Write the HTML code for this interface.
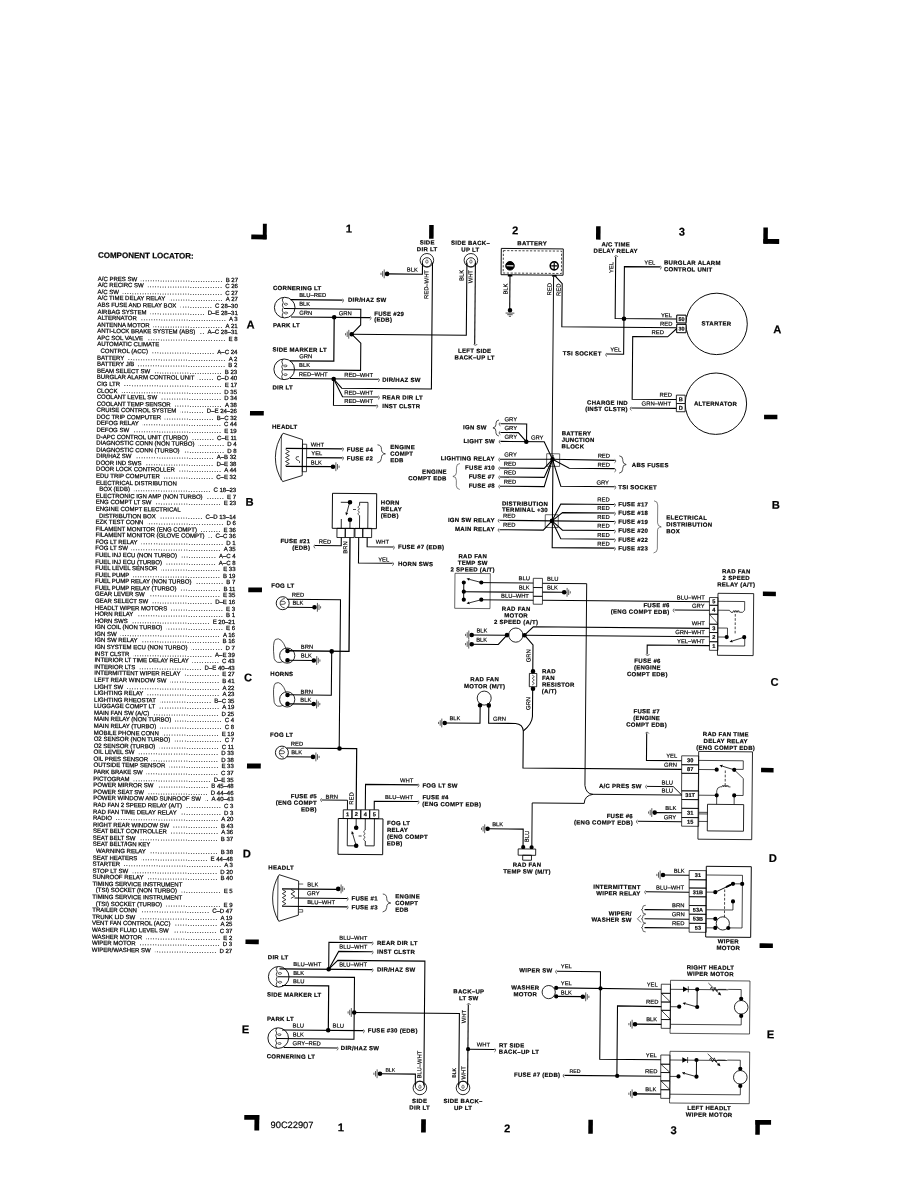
<!DOCTYPE html>
<html><head><meta charset="utf-8"><title>Wiring Diagram</title>
<style>
html,body{margin:0;padding:0;background:#fff}
body{width:918px;height:1188px;overflow:hidden;position:relative;font-family:"Liberation Sans",sans-serif;color:#000}
#pg{filter:grayscale(1);position:absolute;left:0;top:0;width:918px;height:1188px;transform:rotate(0.5deg);transform-origin:459px 594px}
#ttl{-webkit-text-stroke:0.2px #000;position:absolute;left:95px;top:253.6px;font-size:8px;font-weight:bold;line-height:10px;white-space:nowrap}
#ls{-webkit-text-stroke:0.22px #000;position:absolute;left:95px;top:278.7px;width:140.3px;font-size:6px;line-height:6.58px}
#ls div{display:flex;height:6.58px;white-space:nowrap;align-items:flex-start}
#ls div.i{padding-left:3.4px}
#ls b{font-weight:normal;flex:none}
#ls u{text-decoration:none;flex:none}
#ls i{flex:1;font-style:normal;overflow:hidden;margin:0 2.5px 0 4px;min-width:2px;letter-spacing:0.85px;direction:rtl;text-align:right}
svg{position:absolute;left:0;top:0}
svg text{font-family:"Liberation Sans",sans-serif;fill:#000;stroke:#000;stroke-width:0.18px;stroke-linejoin:round}
</style></head>
<body><div id="pg">
<div id="ttl">COMPONENT LOCATOR:</div>
<div id="ls"><div><b>A/C PRES SW</b><i>......................................................................</i><u>B 27</u></div><div><b>A/C RECIRC SW</b><i>......................................................................</i><u>C 26</u></div><div><b>A/C SW</b><i>......................................................................</i><u>C 27</u></div><div><b>A/C TIME DELAY RELAY</b><i>......................................................................</i><u>A 27</u></div><div><b>ABS FUSE AND RELAY BOX</b><i>......................................................................</i><u>C 28–30</u></div><div><b>AIRBAG SYSTEM</b><i>......................................................................</i><u>D–E 28–31</u></div><div><b>ALTERNATOR</b><i>......................................................................</i><u>A 3</u></div><div><b>ANTENNA MOTOR</b><i>......................................................................</i><u>A 21</u></div><div><b>ANTI-LOCK BRAKE SYSTEM (ABS)</b><i>......................................................................</i><u>A–C 28–31</u></div><div><b>APC SOL VALVE</b><i>......................................................................</i><u>E 8</u></div><div><b>AUTOMATIC CLIMATE</b></div><div class="i"><b>CONTROL (ACC)</b><i>......................................................................</i><u>A–C 24</u></div><div><b>BATTERY</b><i>......................................................................</i><u>A 2</u></div><div><b>BATTERY J/B</b><i>......................................................................</i><u>B 2</u></div><div><b>BEAM SELECT SW</b><i>......................................................................</i><u>B 23</u></div><div><b>BURGLAR ALARM CONTROL UNIT</b><i>......................................................................</i><u>C–D 40</u></div><div><b>CIG LTR</b><i>......................................................................</i><u>E 17</u></div><div><b>CLOCK</b><i>......................................................................</i><u>D 35</u></div><div><b>COOLANT LEVEL SW</b><i>......................................................................</i><u>D 34</u></div><div><b>COOLANT TEMP SENSOR</b><i>......................................................................</i><u>A 38</u></div><div><b>CRUISE CONTROL SYSTEM</b><i>......................................................................</i><u>D–E 24–26</u></div><div><b>DOC TRIP COMPUTER</b><i>......................................................................</i><u>B–C 32</u></div><div><b>DEFOG RELAY</b><i>......................................................................</i><u>C 44</u></div><div><b>DEFOG SW</b><i>......................................................................</i><u>E 19</u></div><div><b>D-APC CONTROL UNIT (TURBO)</b><i>......................................................................</i><u>C–E 11</u></div><div><b>DIAGNOSTIC CONN (NON TURBO)</b><i>......................................................................</i><u>D 4</u></div><div><b>DIAGNOSTIC CONN (TURBO)</b><i>......................................................................</i><u>D 8</u></div><div><b>DIR/HAZ SW</b><i>......................................................................</i><u>A–B 32</u></div><div><b>DOOR IND SWS</b><i>......................................................................</i><u>D–E 38</u></div><div><b>DOOR LOCK CONTROLLER</b><i>......................................................................</i><u>A 44</u></div><div><b>EDU TRIP COMPUTER</b><i>......................................................................</i><u>C–E 32</u></div><div><b>ELECTRICAL DISTRIBUTION</b></div><div class="i"><b>BOX (EDB)</b><i>......................................................................</i><u>C 18–23</u></div><div><b>ELECTRONIC IGN AMP (NON TURBO)</b><i>......................................................................</i><u>E 7</u></div><div><b>ENG COMPT LT SW</b><i>......................................................................</i><u>E 23</u></div><div><b>ENGINE COMPT ELECTRICAL</b></div><div class="i"><b>DISTRIBUTION BOX</b><i>......................................................................</i><u>C–D 13–14</u></div><div><b>EZK TEST CONN</b><i>......................................................................</i><u>D 6</u></div><div><b>FILAMENT MONITOR (ENG COMPT)</b><i>......................................................................</i><u>E 36</u></div><div><b>FILAMENT MONITOR (GLOVE COMPT)</b><i>......................................................................</i><u>C–C 36</u></div><div><b>FOG LT RELAY</b><i>......................................................................</i><u>D 1</u></div><div><b>FOG LT SW</b><i>......................................................................</i><u>A 35</u></div><div><b>FUEL INJ ECU (NON TURBO)</b><i>......................................................................</i><u>A–C 4</u></div><div><b>FUEL INJ ECU (TURBO)</b><i>......................................................................</i><u>A–C 8</u></div><div><b>FUEL LEVEL SENSOR</b><i>......................................................................</i><u>E 33</u></div><div><b>FUEL PUMP</b><i>......................................................................</i><u>B 19</u></div><div><b>FUEL PUMP RELAY (NON TURBO)</b><i>......................................................................</i><u>B 7</u></div><div><b>FUEL PUMP RELAY (TURBO)</b><i>......................................................................</i><u>B 11</u></div><div><b>GEAR LEVER SW</b><i>......................................................................</i><u>E 35</u></div><div><b>GEAR SELECT SW</b><i>......................................................................</i><u>D–E 16</u></div><div><b>HEADLT WIPER MOTORS</b><i>......................................................................</i><u>E 3</u></div><div><b>HORN RELAY</b><i>......................................................................</i><u>B 1</u></div><div><b>HORN SWS</b><i>......................................................................</i><u>E 20–21</u></div><div><b>IGN COIL (NON TURBO)</b><i>......................................................................</i><u>E 6</u></div><div><b>IGN SW</b><i>......................................................................</i><u>A 16</u></div><div><b>IGN SW RELAY</b><i>......................................................................</i><u>B 16</u></div><div><b>IGN SYSTEM ECU (NON TURBO)</b><i>......................................................................</i><u>D 7</u></div><div><b>INST CLSTR</b><i>......................................................................</i><u>A–E 39</u></div><div><b>INTERIOR LT TIME DELAY RELAY</b><i>......................................................................</i><u>C 43</u></div><div><b>INTERIOR LTS</b><i>......................................................................</i><u>D–E 40–43</u></div><div><b>INTERMITTENT WIPER RELAY</b><i>......................................................................</i><u>E 27</u></div><div><b>LEFT REAR WINDOW SW</b><i>......................................................................</i><u>B 41</u></div><div><b>LIGHT SW</b><i>......................................................................</i><u>A 22</u></div><div><b>LIGHTING RELAY</b><i>......................................................................</i><u>A 23</u></div><div><b>LIGHTING RHEOSTAT</b><i>......................................................................</i><u>B–C 35</u></div><div><b>LUGGAGE COMPT LT</b><i>......................................................................</i><u>A 19</u></div><div><b>MAIN FAN SW (A/C)</b><i>......................................................................</i><u>D 25</u></div><div><b>MAIN RELAY (NON TURBO)</b><i>......................................................................</i><u>C 4</u></div><div><b>MAIN RELAY (TURBO)</b><i>......................................................................</i><u>C 8</u></div><div><b>MOBILE PHONE CONN</b><i>......................................................................</i><u>E 19</u></div><div><b>O2 SENSOR (NON TURBO)</b><i>......................................................................</i><u>C 7</u></div><div><b>O2 SENSOR (TURBO)</b><i>......................................................................</i><u>C 11</u></div><div><b>OIL LEVEL SW</b><i>......................................................................</i><u>D 33</u></div><div><b>OIL PRES SENSOR</b><i>......................................................................</i><u>D 38</u></div><div><b>OUTSIDE TEMP SENSOR</b><i>......................................................................</i><u>E 33</u></div><div><b>PARK BRAKE SW</b><i>......................................................................</i><u>C 37</u></div><div><b>PICTOGRAM</b><i>......................................................................</i><u>D–E 35</u></div><div><b>POWER MIRROR SW</b><i>......................................................................</i><u>B 45–48</u></div><div><b>POWER SEAT SW</b><i>......................................................................</i><u>D 44–46</u></div><div><b>POWER WINDOW AND SUNROOF SW</b><i>......................................................................</i><u>A 40–43</u></div><div><b>RAD FAN 2 SPEED RELAY (A/T)</b><i>......................................................................</i><u>C 3</u></div><div><b>RAD FAN TIME DELAY RELAY</b><i>......................................................................</i><u>D 3</u></div><div><b>RADIO</b><i>......................................................................</i><u>A 20</u></div><div><b>RIGHT REAR WINDOW SW</b><i>......................................................................</i><u>B 43</u></div><div><b>SEAT BELT CONTROLLER</b><i>......................................................................</i><u>A 36</u></div><div><b>SEAT BELT SW</b><i>......................................................................</i><u>B 37</u></div><div><b>SEAT BELT/IGN KEY</b></div><div class="i"><b>WARNING RELAY</b><i>......................................................................</i><u>B 38</u></div><div><b>SEAT HEATERS</b><i>......................................................................</i><u>E 44–48</u></div><div><b>STARTER</b><i>......................................................................</i><u>A 3</u></div><div><b>STOP LT SW</b><i>......................................................................</i><u>D 20</u></div><div><b>SUNROOF RELAY</b><i>......................................................................</i><u>B 40</u></div><div><b>TIMING SERVICE INSTRUMENT</b></div><div class="i"><b>(TSI) SOCKET (NON TURBO)</b><i>......................................................................</i><u>E 5</u></div><div><b>TIMING SERVICE INSTRUMENT</b></div><div class="i"><b>(TSI) SOCKET (TURBO)</b><i>......................................................................</i><u>E 9</u></div><div><b>TRAILER CONN</b><i>......................................................................</i><u>C–D 47</u></div><div><b>TRUNK LID SW</b><i>......................................................................</i><u>A 19</u></div><div><b>VENT FAN CONTROL (ACC)</b><i>......................................................................</i><u>A 25</u></div><div><b>WASHER FLUID LEVEL SW</b><i>......................................................................</i><u>C 37</u></div><div><b>WASHER MOTOR</b><i>......................................................................</i><u>E 2</u></div><div><b>WIPER MOTOR</b><i>......................................................................</i><u>D 3</u></div><div><b>WIPER/WASHER SW</b><i>......................................................................</i><u>D 27</u></div></div>
<svg width="918" height="1188" viewBox="0 0 918 1188" fill="none" stroke-linecap="butt" stroke-linejoin="miter">
<rect x="248.17" y="236.33" width="15.3" height="4.8" fill="#000"/>
<rect x="259.68" y="225.53" width="3.9" height="15.5" fill="#000"/>
<rect x="760.19" y="224.86" width="4.5" height="16.1" fill="#000"/>
<rect x="760.29" y="236.26" width="15.8" height="4.9" fill="#000"/>
<rect x="248.85" y="1116.85" width="15" height="4.7" fill="#000"/>
<rect x="259.05" y="1116.76" width="4.8" height="15.5" fill="#000"/>
<rect x="759.98" y="1117.29" width="4.5" height="14.8" fill="#000"/>
<rect x="759.98" y="1117.29" width="15.7" height="4.8" fill="#000"/>
<rect x="425.98" y="225.27" width="4.5" height="13.8" fill="#000"/>
<rect x="592.89" y="225.12" width="4.5" height="13.3" fill="#000"/>
<rect x="425.78" y="1119.51" width="4.7" height="13.3" fill="#000"/>
<rect x="592.98" y="1118.55" width="4.5" height="14" fill="#000"/>
<rect x="248.41" y="412.83" width="13.8" height="4.5" fill="#000"/>
<rect x="248.25" y="589.24" width="13.7" height="4.8" fill="#000"/>
<rect x="248.49" y="765.24" width="13.8" height="5" fill="#000"/>
<rect x="248.52" y="941.25" width="13.3" height="4.7" fill="#000"/>
<rect x="762.52" y="412.04" width="13.3" height="4.5" fill="#000"/>
<rect x="762.87" y="588.95" width="13" height="4.5" fill="#000"/>
<rect x="762.61" y="765.16" width="12.5" height="4.5" fill="#000"/>
<rect x="762.64" y="940.66" width="13.3" height="4.7" fill="#000"/>
<text x="345.85" y="233.47" font-size="11.2" font-weight="bold" text-anchor="middle">1</text>
<text x="511.96" y="233.72" font-size="11.2" font-weight="bold" text-anchor="middle">2</text>
<text x="678.76" y="233.56" font-size="11.2" font-weight="bold" text-anchor="middle">3</text>
<text x="345.69" y="1132.21" font-size="11.2" font-weight="bold" text-anchor="middle">1</text>
<text x="511.9" y="1131.95" font-size="11.2" font-weight="bold" text-anchor="middle">2</text>
<text x="678.4" y="1132.2" font-size="11.2" font-weight="bold" text-anchor="middle">3</text>
<text x="248.19" y="330.33" font-size="11.2" font-weight="bold" text-anchor="middle">A</text>
<text x="248.74" y="507.53" font-size="11.2" font-weight="bold" text-anchor="middle">B</text>
<text x="248.77" y="683.23" font-size="11.2" font-weight="bold" text-anchor="middle">C</text>
<text x="249.11" y="859.44" font-size="11.2" font-weight="bold" text-anchor="middle">D</text>
<text x="249.34" y="1035.24" font-size="11.2" font-weight="bold" text-anchor="middle">E</text>
<text x="774.91" y="330.43" font-size="11.2" font-weight="bold" text-anchor="middle">A</text>
<text x="775.15" y="506.13" font-size="11.2" font-weight="bold" text-anchor="middle">B</text>
<text x="775.39" y="683.04" font-size="11.2" font-weight="bold" text-anchor="middle">C</text>
<text x="775.23" y="859.25" font-size="11.2" font-weight="bold" text-anchor="middle">D</text>
<text x="774.26" y="1035.46" font-size="11.2" font-weight="bold" text-anchor="middle">E</text>
<text x="296.67" y="1129.51" font-size="9.3" text-anchor="middle">90C22907</text>
<text x="270.35" y="291.61" font-size="6" font-weight="bold" letter-spacing="0.28">CORNERING LT</text>
<circle cx="282.21" cy="309.13" r="10.3" fill="none" stroke="#000" stroke-width="0.9"/>
<path d="M280.71 299.14q-1.9 2.5 0 5q-1.9 2.5 0 5q-1.9 2.5 0 5q-1.9 2.5 0 5" stroke="#000" stroke-width="0.75" fill="none"/>
<path d="M281.41 305.63q1.6 -1.5 3.4 -0.5q0.9 0.9 -0.8 1.5q-1.7 0.4 -2.6 -1z" stroke="#000" stroke-width="0.6" fill="none"/>
<path d="M281.61 314.43q1.6 -1.5 3.4 -0.5q0.9 0.9 -0.8 1.5q-1.7 0.4 -2.6 -1z" stroke="#000" stroke-width="0.6" fill="none"/>
<path d="M287.94 301.18L339.94 301.18" stroke="#000" stroke-width="1.2" fill="none" />
<path d="M339.94 299.98q1.2 0.3 1 1.8q-.2 1.2 -1.2 1.6" stroke="#000" stroke-width="0.6" fill="none"/>
<text x="296.61" y="298.34" font-size="5.85">BLU–RED</text>
<text x="345.45" y="302.76" font-size="6" font-weight="bold" letter-spacing="0.28">DIR/HAZ SW</text>
<path d="M281.52 310.04L358.32 310.04L358.32 325.87L349.44 335.15L358.62 344.07L358.62 371.27L281.65 371.27" stroke="#000" stroke-width="1.08" fill="none" />
<text x="296.69" y="307.24" font-size="5.85">BLK</text>
<path d="M288.59 318.48L367.59 318.48" stroke="#000" stroke-width="1.2" fill="none" />
<path d="M367.59 317.29q1.2 0.3 1 1.8q-.2 1.2 -1.2 1.6" stroke="#000" stroke-width="0.6" fill="none"/>
<text x="296.77" y="316.24" font-size="5.85">GRN</text>
<text x="336.37" y="316.19" font-size="5.85">GRN</text>
<circle cx="331.79" cy="318.4" r="2.3" fill="#000"/>
<text x="371.78" y="316.53" font-size="6" font-weight="bold" letter-spacing="0.28">FUSE #29</text>
<text x="371.78" y="322.33" font-size="6" font-weight="bold" letter-spacing="0.28">(EDB)</text>
<text x="270.68" y="328.81" font-size="6" font-weight="bold" letter-spacing="0.28">PARK LT</text>
<path d="M331.79 318.4L331.79 362.3L287.97 362.3" stroke="#000" stroke-width="1.2" fill="none" />
<circle cx="349.44" cy="335.25" r="2.3" fill="#000"/>
<path d="M346.54 330.85V339.65" stroke="#000" stroke-width="0.65"/>
<path d="M344.94 332.55V337.95" stroke="#000" stroke-width="0.65"/>
<path d="M343.34 334.15V336.35" stroke="#000" stroke-width="0.65"/>
<path d="M349.44 335.25L464.04 335.25L464.04 262.45" stroke="#000" stroke-width="1.08" fill="none" />
<text x="270.39" y="353.22" font-size="6" font-weight="bold" letter-spacing="0.28">SIDE MARKER LT</text>
<text x="297.15" y="359.63" font-size="5.85">GRN</text>
<circle cx="282.25" cy="370.83" r="10.3" fill="none" stroke="#000" stroke-width="0.9"/>
<path d="M280.75 360.84q-1.9 2.5 0 5q-1.9 2.5 0 5q-1.9 2.5 0 5q-1.9 2.5 0 5" stroke="#000" stroke-width="0.75" fill="none"/>
<path d="M281.45 367.33q1.6 -1.5 3.4 -0.5q0.9 0.9 -0.8 1.5q-1.7 0.4 -2.6 -1z" stroke="#000" stroke-width="0.6" fill="none"/>
<path d="M281.65 376.13q1.6 -1.5 3.4 -0.5q0.9 0.9 -0.8 1.5q-1.7 0.4 -2.6 -1z" stroke="#000" stroke-width="0.6" fill="none"/>
<text x="297.03" y="368.44" font-size="5.85">BLK</text>
<path d="M288.13 379.98L376.43 379.98" stroke="#000" stroke-width="1.2" fill="none" />
<path d="M376.43 379.11q1.2 0.3 1 1.8q-.2 1.2 -1.2 1.6" stroke="#000" stroke-width="0.6" fill="none"/>
<text x="296.91" y="377.64" font-size="5.85">RED–WHT</text>
<text x="342.31" y="377.84" font-size="5.85">RED–WHT</text>
<circle cx="331.83" cy="380.1" r="2.3" fill="#000"/>
<text x="380.35" y="382.46" font-size="6" font-weight="bold" letter-spacing="0.28">DIR/HAZ SW</text>
<path d="M331.83 380.1L339.91 389.23L429.61 389.23L429.61 262.75" stroke="#000" stroke-width="1.08" fill="none" />
<path d="M331.83 380.1L340.78 397.72L376.58 397.72" stroke="#000" stroke-width="1.08" fill="none" />
<path d="M376.59 396.71q1.2 0.3 1 1.8q-.2 1.2 -1.2 1.6" stroke="#000" stroke-width="0.6" fill="none"/>
<text x="342.46" y="395.64" font-size="5.85">RED–WHT</text>
<text x="380.5" y="400.06" font-size="6" font-weight="bold" letter-spacing="0.28">REAR DIR LT</text>
<path d="M331.83 380.1L331.83 406.4L375.06 406.4" stroke="#000" stroke-width="1.08" fill="none" />
<path d="M375.06 405.33q1.2 0.3 1 1.8q-.2 1.2 -1.2 1.6" stroke="#000" stroke-width="0.6" fill="none"/>
<text x="342.54" y="403.94" font-size="5.85">RED–WHT</text>
<text x="380.58" y="408.76" font-size="6" font-weight="bold" letter-spacing="0.28">INST CLSTR</text>
<text x="270.72" y="391.02" font-size="6" font-weight="bold" letter-spacing="0.28">DIR LT</text>
<text x="424.15" y="244.87" font-size="6" font-weight="bold" text-anchor="middle" letter-spacing="0.28">SIDE</text>
<text x="424.15" y="251.57" font-size="6" font-weight="bold" text-anchor="middle" letter-spacing="0.28">DIR LT</text>
<circle cx="423.99" cy="260.59" r="6.8" fill="none" stroke="#000" stroke-width="0.84"/>
<circle cx="424.01" cy="262.59" r="4.6" fill="none" stroke="#000" stroke-width="0.84"/>
<path d="M422.8 262.09q0.2 -2 1.2 -2q1 0 1.2 2q0 1.4 -1.2 1.4q-1.2 0 -1.2 -1.4" stroke="#000" stroke-width="0.55" fill="none"/>
<circle cx="384.31" cy="274.54" r="2.3" fill="#000"/>
<path d="M381.41 270.14V278.94" stroke="#000" stroke-width="0.65"/>
<path d="M379.81 271.84V277.24" stroke="#000" stroke-width="0.65"/>
<path d="M378.21 273.44V275.64" stroke="#000" stroke-width="0.65"/>
<path d="M384.31 274.54L419.61 274.54L419.61 262.83" stroke="#000" stroke-width="1.08" fill="none" />
<text x="409.59" y="272.05" font-size="5.85" text-anchor="middle">BLK</text>
<text x="425.73" y="284.78" font-size="5.85" text-anchor="middle" transform="rotate(-90 425.73 284.78)">RED–WHT</text>
<text x="467.45" y="244.89" font-size="6" font-weight="bold" text-anchor="middle" letter-spacing="0.28">SIDE BACK–</text>
<text x="467.45" y="251.59" font-size="6" font-weight="bold" text-anchor="middle" letter-spacing="0.28">UP LT</text>
<circle cx="467.99" cy="260.21" r="6.8" fill="none" stroke="#000" stroke-width="0.84"/>
<circle cx="468" cy="262.21" r="4.6" fill="none" stroke="#000" stroke-width="0.84"/>
<path d="M466.8 261.71q0.2 -2 1.2 -2q1 0 1.2 2q0 1.4 -1.2 1.4q-1.2 0 -1.2 -1.4" stroke="#000" stroke-width="0.55" fill="none"/>
<text x="460.65" y="275.47" font-size="5.85" text-anchor="middle" transform="rotate(-90 460.65 275.47)">BLK</text>
<text x="469.76" y="276.59" font-size="5.85" text-anchor="middle" transform="rotate(-90 469.76 276.59)">WHT</text>
<path d="M472.51 262.37L472.51 344.07" stroke="#000" stroke-width="1.08" fill="none" />
<path d="M471.62 344.07q0.3 1.2 1.8 1q1.2 -.2 1.6 -1.2" stroke="#000" stroke-width="0.6" fill="none"/>
<text x="472.6" y="352.75" font-size="6" font-weight="bold" text-anchor="middle" letter-spacing="0.28">LEFT SIDE</text>
<text x="472.6" y="359.45" font-size="6" font-weight="bold" text-anchor="middle" letter-spacing="0.28">BACK–UP LT</text>
<text x="529.15" y="244.75" font-size="6" font-weight="bold" text-anchor="middle" letter-spacing="0.28">BATTERY</text>
<rect x="498.28" y="248.04" width="62" height="26.3" fill="none" stroke="#000" stroke-width="0.96" />
<rect x="500.4" y="250.23" width="58.2" height="22.4" fill="none" stroke="#000" stroke-width="0.72" stroke-dasharray="2.2 1.6"/>
<circle cx="507.13" cy="265.37" r="4.3" fill="#000" stroke="#000" stroke-width="0.96"/>
<path d="M503.73 265.37H510.53" stroke="#fff" stroke-width="1.1"/>
<circle cx="551.33" cy="265.08" r="4" fill="#fff" stroke="#000" stroke-width="1.56"/>
<path d="M548.33 265.08H554.33M551.33 262.08V268.08" stroke="#000" stroke-width="1.2"/>
<rect x="505.01" y="274.19" width="4.6" height="1.8" fill="#000"/>
<rect x="549.41" y="274.2" width="4.4" height="1.8" fill="#000"/>
<path d="M507.22 275.57L507.22 309.57" stroke="#000" stroke-width="1.08" fill="none" />
<circle cx="507.52" cy="309.77" r="2.3" fill="#000"/>
<path d="M503.12 312.67H511.92" stroke="#000" stroke-width="0.7"/>
<path d="M504.82 314.27H510.22" stroke="#000" stroke-width="0.7"/>
<path d="M506.42 315.87H508.62" stroke="#000" stroke-width="0.7"/>
<text x="504.87" y="288.59" font-size="5.85" text-anchor="middle" transform="rotate(-90 504.87 288.59)">BLK</text>
<text x="548.77" y="288.51" font-size="5.85" text-anchor="middle" transform="rotate(-90 548.77 288.51)">RED</text>
<text x="557.87" y="288.93" font-size="5.85" text-anchor="middle" transform="rotate(-90 557.87 288.93)">RED</text>
<path d="M550.83 275.69L550.83 458.19" stroke="#000" stroke-width="0.96" fill="none" />
<path d="M552.72 275.47L559.49 282.81L559.49 325.91L674.46 325.91" stroke="#000" stroke-width="1.08" fill="none" />
<text x="612.66" y="245.13" font-size="6" font-weight="bold" text-anchor="middle" letter-spacing="0.28">A/C TIME</text>
<text x="612.66" y="251.53" font-size="6" font-weight="bold" text-anchor="middle" letter-spacing="0.28">DELAY RELAY</text>
<path d="M611.55 255.35q0.3 -1.2 1.8 -1q1.2 .2 1.6 1.2" stroke="#000" stroke-width="0.6" fill="none"/>
<path d="M612.75 255.35L612.75 317.15L674.39 317.15" stroke="#000" stroke-width="1.08" fill="none" />
<text x="610.38" y="266.17" font-size="5.85" text-anchor="middle" transform="rotate(-90 610.38 266.17)">YEL</text>
<circle cx="621.59" cy="317.27" r="2.3" fill="#000"/>
<path d="M657.34 265.16L621.54 265.16L621.54 352.77L604.7 352.77" stroke="#000" stroke-width="1.08" fill="none" />
<path d="M657.34 264.26q1.2 0.3 1 1.8q-.2 1.2 -1.2 1.6" stroke="#000" stroke-width="0.6" fill="none"/>
<path d="M604.7 351.92q-1.2 0.3 -1 1.8q.2 1.2 1.2 1.6" stroke="#000" stroke-width="0.6" fill="none"/>
<text x="646.92" y="262.88" font-size="5.85" text-anchor="middle">YEL</text>
<text x="661.12" y="262.8" font-size="6" font-weight="bold" letter-spacing="0.28">BURGLAR ALARM</text>
<text x="661.12" y="269.5" font-size="6" font-weight="bold" letter-spacing="0.28">CONTROL UNIT</text>
<text x="664.08" y="315.53" font-size="5.85" text-anchor="middle">YEL</text>
<text x="663.85" y="323.93" font-size="5.85" text-anchor="middle">RED</text>
<text x="655.43" y="332.51" font-size="5.85" text-anchor="middle">RED</text>
<text x="613.58" y="350.27" font-size="5.85" text-anchor="middle">YEL</text>
<text x="599.51" y="354.44" font-size="6" font-weight="bold" text-anchor="end" letter-spacing="0.28">TSI SOCKET</text>
<rect x="674.36" y="313.31" width="9.2" height="7.6" fill="none" stroke="#000" stroke-width="0.84" />
<rect x="674.44" y="322.51" width="9.2" height="8.2" fill="none" stroke="#000" stroke-width="0.84" />
<text x="679.21" y="319.05" font-size="5.4" font-weight="bold" text-anchor="middle">50</text>
<text x="679.29" y="328.55" font-size="5.4" font-weight="bold" text-anchor="middle">30</text>
<circle cx="714.23" cy="321.66" r="30.7" fill="#fff" stroke="#000" stroke-width="0.96"/>
<rect x="674.36" y="313.31" width="9.2" height="7.6" fill="#fff" stroke="#000" stroke-width="0.84" />
<rect x="674.44" y="322.51" width="9.2" height="8.2" fill="#fff" stroke="#000" stroke-width="0.84" />
<text x="679.21" y="319.05" font-size="5.4" font-weight="bold" text-anchor="middle">50</text>
<text x="679.29" y="328.55" font-size="5.4" font-weight="bold" text-anchor="middle">30</text>
<text x="714.15" y="323.34" font-size="6" font-weight="bold" text-anchor="middle" letter-spacing="0.28">STARTER</text>
<path d="M674.47 326.61L665.45 334.99L630.45 334.99L630.45 397.69L674.69 397.69" stroke="#000" stroke-width="1.08" fill="none" />
<circle cx="714.23" cy="401.47" r="30.7" fill="#fff" stroke="#000" stroke-width="0.96"/>
<rect x="674.66" y="393.21" width="8.8" height="8.4" fill="#fff" stroke="#000" stroke-width="0.84" />
<rect x="674.73" y="401.61" width="8.8" height="8.2" fill="#fff" stroke="#000" stroke-width="0.84" />
<text x="679.21" y="399.32" font-size="5.6" font-weight="bold" text-anchor="middle">B</text>
<text x="679.28" y="407.72" font-size="5.6" font-weight="bold" text-anchor="middle">D</text>
<text x="713.85" y="403.55" font-size="6" font-weight="bold" text-anchor="middle" letter-spacing="0.28">ALTERNATOR</text>
<text x="663.97" y="394.93" font-size="5.85" text-anchor="middle">RED</text>
<text x="654.75" y="403.82" font-size="5.85" text-anchor="middle">GRN–WHT</text>
<path d="M629.67 406.5L674.77 406.5" stroke="#000" stroke-width="1.08" fill="none" />
<path d="M629.67 405.5q-1.2 0.3 -1 1.8q.2 1.2 1.2 1.6" stroke="#000" stroke-width="0.6" fill="none"/>
<text x="626.24" y="403.51" font-size="6" font-weight="bold" text-anchor="end" letter-spacing="0.28">CHARGE IND</text>
<text x="626.24" y="409.81" font-size="6" font-weight="bold" text-anchor="end" letter-spacing="0.28">(INST CLSTR)</text>
<text x="270.57" y="430.42" font-size="6" font-weight="bold" letter-spacing="0.28">HEADLT</text>
<path d="M281.7 434.74a42.8 42.8 0 0 0 0 48.4l19.5 -6.2v-36z" stroke="#000" stroke-width="0.85" fill="none"/>
<path d="M280 436.24v45.4" stroke="#000" stroke-width="0.7" fill="none"/>
<rect x="301.2" y="445.57" width="4.2" height="27.5" fill="none" stroke="#000" stroke-width="0.72" />
<path d="M284.35 451.02l3.8 2l-3.8 2l3.8 2l-3.8 2l3.8 2l-3.8 2l3.8 2l-3.8 2" stroke="#000" stroke-width="0.75" fill="none"/>
<path d="M297.8 458.03q-3.4 -0.6 -3 2q0.6 1.8 2.4 1.8q1.8 0.4 1.2 2.6" stroke="#000" stroke-width="0.7" fill="none"/>
<path d="M284.54 449.92L341.24 449.92" stroke="#000" stroke-width="1.08" fill="none" />
<path d="M341.24 448.62q1.2 0.3 1 1.8q-.2 1.2 -1.2 1.6" stroke="#000" stroke-width="0.6" fill="none"/>
<path d="M305.62 458.93L341.32 458.93" stroke="#000" stroke-width="1.08" fill="none" />
<path d="M341.32 457.72q1.2 0.3 1 1.8q-.2 1.2 -1.2 1.6" stroke="#000" stroke-width="0.6" fill="none"/>
<path d="M284.69 467.82L331.89 467.82" stroke="#000" stroke-width="1.2" fill="none" />
<circle cx="331.89" cy="467.8" r="2.3" fill="#000"/>
<path d="M334.79 463.4V472.2" stroke="#000" stroke-width="0.65"/>
<path d="M336.39 465.1V470.5" stroke="#000" stroke-width="0.65"/>
<path d="M337.99 466.7V468.9" stroke="#000" stroke-width="0.65"/>
<text x="309.52" y="447.93" font-size="5.85">WHT</text>
<text x="310.09" y="456.52" font-size="5.85">YEL</text>
<text x="309.67" y="465.73" font-size="5.85">BLK</text>
<text x="345.46" y="452.57" font-size="6" font-weight="bold" letter-spacing="0.28">FUSE #4</text>
<text x="345.54" y="461.37" font-size="6" font-weight="bold" letter-spacing="0.28">FUSE #2</text>
<path d="M376.2 445.52q4 0.3 4 4.4L380.2 450.12q0 3.6 4 4.4q-4 0 -4 4.4L380.2 459.12q0 3.6 -4 4.4" stroke="#000" stroke-width="0.7" fill="none"/>
<text x="389.04" y="449.69" font-size="6" font-weight="bold" letter-spacing="0.28">ENGINE</text>
<text x="389.04" y="456.29" font-size="6" font-weight="bold" letter-spacing="0.28">COMPT</text>
<text x="389.04" y="462.89" font-size="6" font-weight="bold" letter-spacing="0.28">EDB</text>
<rect x="331.63" y="494.41" width="44.2" height="35" fill="none" stroke="#000" stroke-width="0.96" />
<rect x="336.43" y="529.37" width="8.3" height="9.2" fill="none" stroke="#000" stroke-width="0.84" />
<rect x="344.73" y="529.29" width="8.9" height="9.2" fill="none" stroke="#000" stroke-width="0.84" />
<rect x="354.43" y="529.21" width="7.8" height="9.2" fill="none" stroke="#000" stroke-width="0.84" />
<rect x="362.23" y="529.14" width="8.9" height="9.2" fill="none" stroke="#000" stroke-width="0.84" />
<circle cx="349.2" cy="503.25" r="2.3" fill="#000"/>
<circle cx="349.36" cy="520.75" r="2.3" fill="#000"/>
<path d="M340 503.33L349.2 503.33" stroke="#000" stroke-width="0.84" fill="none" />
<path d="M348.71 503.96L346.1 513.69" stroke="#000" stroke-width="0.8"/>
<path d="M345.32 516.59L344.75 513.33L347.45 514.05Z" fill="#000"/>
<path d="M340.65 520.03L340.65 529.33" stroke="#000" stroke-width="0.84" fill="none" />
<path d="M349.36 520.75L349.36 529.25" stroke="#000" stroke-width="0.84" fill="none" />
<path d="M352.27 510.43L355.27 510.43" stroke="#000" stroke-width="0.72" fill="none" />
<path d="M358.83 506.37q-3.2 1.67 0 3.33q-3.2 1.67 0 3.33q-3.2 1.67 0 3.33" stroke="#000" stroke-width="0.6" fill="none"/>
<path d="M358.83 506.37L358.83 503.17L367.2 503.17L367.2 529.1" stroke="#000" stroke-width="0.84" fill="none" />
<path d="M358.92 516.37L358.92 529.17" stroke="#000" stroke-width="0.84" fill="none" />
<text x="380.02" y="505.27" font-size="6" font-weight="bold" letter-spacing="0.28">HORN</text>
<text x="380.02" y="511.77" font-size="6" font-weight="bold" letter-spacing="0.28">RELAY</text>
<text x="380.02" y="518.27" font-size="6" font-weight="bold" letter-spacing="0.28">(EDB)</text>
<path d="M340.81 538.53L340.81 546.83L314.58 546.83" stroke="#000" stroke-width="1.08" fill="none" />
<path d="M314.59 546.06q-1.2 0.3 -1 1.8q.2 1.2 1.2 1.6" stroke="#000" stroke-width="0.6" fill="none"/>
<text x="324.57" y="544.8" font-size="5.85" text-anchor="middle">RED</text>
<text x="309.86" y="544.58" font-size="6" font-weight="bold" text-anchor="end" letter-spacing="0.28">FUSE #21</text>
<text x="309.86" y="551.18" font-size="6" font-weight="bold" text-anchor="end" letter-spacing="0.28">(EDB)</text>
<text x="346.83" y="548.48" font-size="5.85" text-anchor="middle" transform="rotate(-90 346.83 548.48)">BRN</text>
<path d="M349.51 538.45L349.51 652.25L288 652.25" stroke="#000" stroke-width="1.32" fill="none" />
<path d="M358.21 538.38L358.21 563.88L392.23 563.88" stroke="#000" stroke-width="1.08" fill="none" />
<path d="M392.24 562.88q1.2 0.3 1 1.8q-.2 1.2 -1.2 1.6" stroke="#000" stroke-width="0.6" fill="none"/>
<text x="383.42" y="562.19" font-size="5.85" text-anchor="middle">YEL</text>
<text x="397.76" y="566.41" font-size="6" font-weight="bold" letter-spacing="0.28">HORN SWS</text>
<path d="M366.71 538.3L366.71 547.5L392.89 547.5" stroke="#000" stroke-width="1.08" fill="none" />
<path d="M392.89 546.58q1.2 0.3 1 1.8q-.2 1.2 -1.2 1.6" stroke="#000" stroke-width="0.6" fill="none"/>
<text x="382.06" y="544.4" font-size="5.85" text-anchor="middle">WHT</text>
<text x="397.61" y="549.41" font-size="6" font-weight="bold" letter-spacing="0.28">FUSE #7 (EDB)</text>
<path d="M551.78 454.18L551.78 546.78L613.89 546.78" stroke="#000" stroke-width="1.08" fill="none" />
<path d="M613.9 545.85q1.2 0.3 1 1.8q-.2 1.2 -1.2 1.6" stroke="#000" stroke-width="0.6" fill="none"/>
<rect x="545.47" y="452.94" width="13" height="12.6" fill="none" stroke="#000" stroke-width="0.6" />
<rect x="544.6" y="513.95" width="13" height="12.8" fill="none" stroke="#000" stroke-width="0.6" />
<circle cx="551.32" cy="458.49" r="2.3" fill="#000"/>
<circle cx="551.36" cy="520.09" r="2.3" fill="#000"/>
<path d="M498.71 422.15q-1.2 0.3 -1 1.8q.2 1.2 1.2 1.6" stroke="#000" stroke-width="0.6" fill="none"/>
<path d="M498.79 430.95q-1.2 0.3 -1 1.8q.2 1.2 1.2 1.6" stroke="#000" stroke-width="0.6" fill="none"/>
<path d="M498.87 439.85q-1.2 0.3 -1 1.8q.2 1.2 1.2 1.6" stroke="#000" stroke-width="0.6" fill="none"/>
<path d="M499.01 423.34L525.21 423.34L525.21 441.12" stroke="#000" stroke-width="1.08" fill="none" />
<path d="M499.09 432.14L516.89 432.14L524.97 441.12" stroke="#000" stroke-width="1.08" fill="none" />
<path d="M499.17 441.04L542.87 441.04L551.32 458.49" stroke="#000" stroke-width="1.08" fill="none" />
<circle cx="524.97" cy="441.12" r="2.3" fill="#000"/>
<text x="509.29" y="420.79" font-size="5.85" text-anchor="middle">GRY</text>
<text x="509.37" y="429.58" font-size="5.85" text-anchor="middle">GRY</text>
<text x="509.44" y="438.28" font-size="5.85" text-anchor="middle">GRY</text>
<text x="535.85" y="438.85" font-size="5.85" text-anchor="middle">GRY</text>
<path d="M497.48 419.66q-3 0.3 -3 3.3L494.48 424.36q0 2.7 -3 3.3q3 0 3 3.3L494.48 432.36q0 2.7 3 3.3" stroke="#000" stroke-width="0.7" fill="none"/>
<text x="485.26" y="429.34" font-size="6" font-weight="bold" text-anchor="end" letter-spacing="0.28">IGN SW</text>
<text x="493.68" y="443.07" font-size="6" font-weight="bold" text-anchor="end" letter-spacing="0.28">LIGHT SW</text>
<path d="M498.62 457.65q-1.2 0.3 -1 1.8q.2 1.2 1.2 1.6" stroke="#000" stroke-width="0.6" fill="none"/>
<path d="M498.82 458.85L551.32 458.49" stroke="#000" stroke-width="1.08" fill="none" />
<path d="M498.7 466.45q-1.2 0.3 -1 1.8q.2 1.2 1.2 1.6" stroke="#000" stroke-width="0.6" fill="none"/>
<path d="M498.9 467.65L543.1 467.65L551.32 458.49" stroke="#000" stroke-width="1.08" fill="none" />
<path d="M498.78 475.45q-1.2 0.3 -1 1.8q.2 1.2 1.2 1.6" stroke="#000" stroke-width="0.6" fill="none"/>
<path d="M498.98 476.65L543.18 476.65L551.32 458.49" stroke="#000" stroke-width="1.08" fill="none" />
<path d="M498.86 484.65q-1.2 0.3 -1 1.8q.2 1.2 1.2 1.6" stroke="#000" stroke-width="0.6" fill="none"/>
<path d="M499.06 485.85L543.26 485.85L551.32 458.49" stroke="#000" stroke-width="1.08" fill="none" />
<text x="509.3" y="456.09" font-size="5.85" text-anchor="middle">GRY</text>
<text x="508.88" y="465.29" font-size="5.85" text-anchor="middle">RED</text>
<text x="508.96" y="474.09" font-size="5.85" text-anchor="middle">RED</text>
<text x="509.04" y="483.29" font-size="5.85" text-anchor="middle">RED</text>
<text x="493.54" y="460.47" font-size="6" font-weight="bold" text-anchor="end" letter-spacing="0.28">LIGHTING RELAY</text>
<text x="493.92" y="469.57" font-size="6" font-weight="bold" text-anchor="end" letter-spacing="0.28">FUSE #10</text>
<text x="493.99" y="478.47" font-size="6" font-weight="bold" text-anchor="end" letter-spacing="0.28">FUSE #7</text>
<text x="494.07" y="487.57" font-size="6" font-weight="bold" text-anchor="end" letter-spacing="0.28">FUSE #8</text>
<path d="M458.86 463.5q-3.5 0.3 -3.5 3.85L455.36 472.65q0 3.15 -3.5 3.85q3.5 0 3.5 3.85L455.36 485.65q0 3.15 3.5 3.85" stroke="#000" stroke-width="0.5" fill="none"/>
<text x="445.75" y="473.99" font-size="6" font-weight="bold" text-anchor="end" letter-spacing="0.28">ENGINE</text>
<text x="445.75" y="480.59" font-size="6" font-weight="bold" text-anchor="end" letter-spacing="0.28">COMPT EDB</text>
<path d="M551.32 458.49L613.53 459.05" stroke="#000" stroke-width="1.08" fill="none" />
<path d="M613.53 458.05q1.2 0.3 1 1.8q-.2 1.2 -1.2 1.6" stroke="#000" stroke-width="0.6" fill="none"/>
<path d="M551.32 458.49L568.1 467.24L613.6 467.24" stroke="#000" stroke-width="1.08" fill="none" />
<path d="M613.61 467.25q1.2 0.3 1 1.8q-.2 1.2 -1.2 1.6" stroke="#000" stroke-width="0.6" fill="none"/>
<path d="M551.32 458.49L559.86 485.32L613.76 485.32" stroke="#000" stroke-width="1.08" fill="none" />
<path d="M613.76 484.45q1.2 0.3 1 1.8q-.2 1.2 -1.2 1.6" stroke="#000" stroke-width="0.6" fill="none"/>
<text x="602.61" y="456.57" font-size="5.85" text-anchor="middle">RED</text>
<text x="602.68" y="465.47" font-size="5.85" text-anchor="middle">RED</text>
<text x="601.74" y="483.28" font-size="5.85" text-anchor="middle">GRY</text>
<path d="M618.09 454.41q3.5 0.3 3.5 3.85L621.59 459.26q0 3.15 3.5 3.85q-3.5 0 -3.5 3.85L621.59 467.96q0 3.15 -3.5 3.85" stroke="#000" stroke-width="0.7" fill="none"/>
<text x="630.69" y="465.58" font-size="6" font-weight="bold" letter-spacing="0.28">ABS FUSES</text>
<text x="617.28" y="487.79" font-size="6" font-weight="bold" letter-spacing="0.28">TSI SOCKET</text>
<text x="560.31" y="434.49" font-size="6" font-weight="bold" letter-spacing="0.28">BATTERY</text>
<text x="560.31" y="440.99" font-size="6" font-weight="bold" letter-spacing="0.28">JUNCTION</text>
<text x="560.31" y="447.49" font-size="6" font-weight="bold" letter-spacing="0.28">BLOCK</text>
<text x="524.23" y="505.21" font-size="6" font-weight="bold" text-anchor="middle" letter-spacing="0.28">DISTRIBUTION</text>
<text x="524.23" y="511.21" font-size="6" font-weight="bold" text-anchor="middle" letter-spacing="0.28">TERMINAL +30</text>
<path d="M498.56 518.75q-1.2 0.3 -1 1.8q.2 1.2 1.2 1.6" stroke="#000" stroke-width="0.6" fill="none"/>
<path d="M498.86 519.95L551.36 520.09" stroke="#000" stroke-width="1.08" fill="none" />
<path d="M498.64 528.15q-1.2 0.3 -1 1.8q.2 1.2 1.2 1.6" stroke="#000" stroke-width="0.6" fill="none"/>
<path d="M498.94 529.35L542.74 529.35L551.36 520.09" stroke="#000" stroke-width="1.08" fill="none" />
<text x="508.53" y="517.4" font-size="5.85" text-anchor="middle">RED</text>
<text x="508.61" y="526.29" font-size="5.85" text-anchor="middle">RED</text>
<text x="494.07" y="522.07" font-size="6" font-weight="bold" text-anchor="end" letter-spacing="0.28">IGN SW RELAY</text>
<text x="494.15" y="530.97" font-size="6" font-weight="bold" text-anchor="end" letter-spacing="0.28">MAIN RELAY</text>
<path d="M551.36 520.09L560.01 503.12L613.51 503.12" stroke="#000" stroke-width="1.08" fill="none" />
<path d="M613.51 502.05q1.2 0.3 1 1.8q-.2 1.2 -1.2 1.6" stroke="#000" stroke-width="0.6" fill="none"/>
<path d="M551.36 520.09L561.79 511.7L613.59 511.7" stroke="#000" stroke-width="1.08" fill="none" />
<path d="M613.59 510.75q1.2 0.3 1 1.8q-.2 1.2 -1.2 1.6" stroke="#000" stroke-width="0.6" fill="none"/>
<path d="M551.36 520.09L613.66 520.15" stroke="#000" stroke-width="1.08" fill="none" />
<path d="M613.67 519.45q1.2 0.3 1 1.8q-.2 1.2 -1.2 1.6" stroke="#000" stroke-width="0.6" fill="none"/>
<path d="M551.36 520.09L561.94 529.2L613.74 529.2" stroke="#000" stroke-width="1.08" fill="none" />
<path d="M613.74 528.45q1.2 0.3 1 1.8q-.2 1.2 -1.2 1.6" stroke="#000" stroke-width="0.6" fill="none"/>
<path d="M551.36 520.09L560.31 537.91L613.81 537.91" stroke="#000" stroke-width="1.08" fill="none" />
<path d="M613.82 537.25q1.2 0.3 1 1.8q-.2 1.2 -1.2 1.6" stroke="#000" stroke-width="0.6" fill="none"/>
<text x="602.69" y="500.27" font-size="5.85" text-anchor="middle">RED</text>
<text x="617.43" y="504.89" font-size="6" font-weight="bold" letter-spacing="0.28">FUSE #17</text>
<text x="602.76" y="508.77" font-size="5.85" text-anchor="middle">RED</text>
<text x="617.5" y="513.49" font-size="6" font-weight="bold" letter-spacing="0.28">FUSE #18</text>
<text x="602.84" y="517.77" font-size="5.85" text-anchor="middle">RED</text>
<text x="617.58" y="522.39" font-size="6" font-weight="bold" letter-spacing="0.28">FUSE #19</text>
<text x="602.92" y="526.57" font-size="5.85" text-anchor="middle">RED</text>
<text x="617.66" y="531.19" font-size="6" font-weight="bold" letter-spacing="0.28">FUSE #20</text>
<text x="603" y="535.77" font-size="5.85" text-anchor="middle">RED</text>
<text x="617.74" y="540.39" font-size="6" font-weight="bold" letter-spacing="0.28">FUSE #22</text>
<text x="603.07" y="544.57" font-size="5.85" text-anchor="middle">RED</text>
<text x="617.81" y="548.99" font-size="6" font-weight="bold" letter-spacing="0.28">FUSE #23</text>
<path d="M653.18 499.1q3.75 0.3 3.75 4.12L656.93 521.08q0 3.38 3.75 4.12q-3.75 0 -3.75 4.12L656.93 547.17q0 3.38 -3.75 4.12" stroke="#000" stroke-width="0.5" fill="none"/>
<text x="665.64" y="517.77" font-size="6" font-weight="bold" letter-spacing="0.28">ELECTRICAL</text>
<text x="665.64" y="524.57" font-size="6" font-weight="bold" letter-spacing="0.28">DISTRIBUTION</text>
<text x="665.64" y="531.37" font-size="6" font-weight="bold" letter-spacing="0.28">BOX</text>
<text x="271.15" y="589.22" font-size="6" font-weight="bold" letter-spacing="0.28">FOG LT</text>
<circle cx="282.79" cy="604.74" r="6.5" fill="none" stroke="#000" stroke-width="0.9"/>
<path d="M284.79 600.14a4.6 4.6 0 0 0 0 9.2" stroke="#000" stroke-width="0.7" fill="none"/>
<path d="M280.59 602.84h2.6q2.4 0.2 2.4 1.5t-2.4 1.5h-2.6" stroke="#000" stroke-width="0.65" fill="none"/>
<path d="M287.05 600.7L340.55 600.7L340.55 749.53" stroke="#000" stroke-width="1.08" fill="none" />
<text x="298.03" y="598.14" font-size="5.85" text-anchor="middle">RED</text>
<text x="298.1" y="606.14" font-size="5.85" text-anchor="middle">BLK</text>
<path d="M287.62 608.7L314.62 608.7" stroke="#000" stroke-width="1.08" fill="none" />
<circle cx="314.62" cy="608.56" r="2.3" fill="#000"/>
<path d="M317.52 604.16V612.96" stroke="#000" stroke-width="0.65"/>
<path d="M319.12 605.86V611.26" stroke="#000" stroke-width="0.65"/>
<path d="M320.72 607.46V609.66" stroke="#000" stroke-width="0.65"/>
<circle cx="287.74" cy="657.1" r="7.6" fill="none" stroke="#000" stroke-width="0.84"/>
<path d="M286.74 650.6q-5 -13 -11 -9.5q-3 3 -1 19q2 6 9 3" stroke="#000" stroke-width="0.7" fill="none"/>
<circle cx="288.13" cy="700.9" r="7.6" fill="none" stroke="#000" stroke-width="0.84"/>
<path d="M287.13 694.4q-5 -13 -11 -9.5q-3 3 -1 19q2 6 9 3" stroke="#000" stroke-width="0.7" fill="none"/>
<circle cx="288" cy="652.39" r="2.3" fill="#000"/>
<circle cx="288.09" cy="661.79" r="2.3" fill="#000"/>
<circle cx="288.39" cy="696.49" r="2.3" fill="#000"/>
<circle cx="288.47" cy="705.39" r="2.3" fill="#000"/>
<circle cx="332.21" cy="652.51" r="2.3" fill="#000"/>
<text x="307.48" y="650.15" font-size="5.85" text-anchor="middle">BRN</text>
<text x="306.86" y="658.86" font-size="5.85" text-anchor="middle">BLK</text>
<text x="307.58" y="695.06" font-size="5.85" text-anchor="middle">BRN</text>
<text x="306.75" y="703.06" font-size="5.85" text-anchor="middle">BLK</text>
<path d="M288.09 661.79L314.39 661.79" stroke="#000" stroke-width="1.08" fill="none" />
<circle cx="314.39" cy="661.76" r="2.3" fill="#000"/>
<path d="M317.29 657.36V666.16" stroke="#000" stroke-width="0.65"/>
<path d="M318.89 659.06V664.46" stroke="#000" stroke-width="0.65"/>
<path d="M320.49 660.66V662.86" stroke="#000" stroke-width="0.65"/>
<path d="M332.21 652.51L332.21 696.31L288.39 696.31" stroke="#000" stroke-width="1.08" fill="none" />
<path d="M288.47 705.39L314.67 705.39" stroke="#000" stroke-width="1.08" fill="none" />
<circle cx="314.67" cy="705.26" r="2.3" fill="#000"/>
<path d="M317.57 700.86V709.66" stroke="#000" stroke-width="0.65"/>
<path d="M319.17 702.56V707.96" stroke="#000" stroke-width="0.65"/>
<path d="M320.77 704.16V706.36" stroke="#000" stroke-width="0.65"/>
<text x="271.02" y="677.52" font-size="6" font-weight="bold" letter-spacing="0.28">HORNS</text>
<text x="271.25" y="738.42" font-size="6" font-weight="bold" letter-spacing="0.28">FOG LT</text>
<circle cx="283.29" cy="754.14" r="6.5" fill="none" stroke="#000" stroke-width="0.9"/>
<path d="M285.29 749.54a4.6 4.6 0 0 0 0 9.2" stroke="#000" stroke-width="0.7" fill="none"/>
<path d="M281.09 752.24h2.6q2.4 0.2 2.4 1.5t-2.4 1.5h-2.6" stroke="#000" stroke-width="0.65" fill="none"/>
<path d="M287.85 749.5L358.05 749.5L358.05 810.69" stroke="#000" stroke-width="1.2" fill="none" />
<circle cx="340.85" cy="749.54" r="2.3" fill="#000"/>
<text x="298.33" y="747.24" font-size="5.85" text-anchor="middle">RED</text>
<text x="298.11" y="755.74" font-size="5.85" text-anchor="middle">BLK</text>
<path d="M288.13 758.3L314.43 758.3" stroke="#000" stroke-width="1.08" fill="none" />
<circle cx="314.43" cy="758.17" r="2.3" fill="#000"/>
<path d="M317.33 753.77V762.57" stroke="#000" stroke-width="0.65"/>
<path d="M318.93 755.47V760.87" stroke="#000" stroke-width="0.65"/>
<path d="M320.53 757.07V759.27" stroke="#000" stroke-width="0.65"/>
<rect x="340.26" y="819.54" width="44.7" height="35.8" fill="none" stroke="#000" stroke-width="0.96" />
<rect x="345.19" y="810.8" width="8.7" height="8.7" fill="none" stroke="#000" stroke-width="0.84" />
<text x="349.59" y="817.11" font-size="5.6" font-weight="bold" text-anchor="middle">1</text>
<rect x="353.89" y="810.73" width="8.8" height="8.7" fill="none" stroke="#000" stroke-width="0.84" />
<text x="358.34" y="817.03" font-size="5.6" font-weight="bold" text-anchor="middle">2</text>
<rect x="362.69" y="810.65" width="8.9" height="8.7" fill="none" stroke="#000" stroke-width="0.84" />
<text x="367.19" y="816.96" font-size="5.6" font-weight="bold" text-anchor="middle">4</text>
<rect x="371.59" y="810.57" width="9.1" height="8.7" fill="none" stroke="#000" stroke-width="0.84" />
<text x="376.19" y="816.88" font-size="5.6" font-weight="bold" text-anchor="middle">5</text>
<text x="318.79" y="799.61" font-size="6" font-weight="bold" text-anchor="end" letter-spacing="0.28">FUSE #5</text>
<text x="318.79" y="806.21" font-size="6" font-weight="bold" text-anchor="end" letter-spacing="0.28">(ENG COMPT</text>
<text x="318.79" y="812.81" font-size="6" font-weight="bold" text-anchor="end" letter-spacing="0.28">EDB)</text>
<path d="M323.5 799.59q-1.2 0.3 -1 1.8q.2 1.2 1.2 1.6" stroke="#000" stroke-width="0.6" fill="none"/>
<path d="M323.5 801.19L349.3 801.19L349.3 810.77" stroke="#000" stroke-width="0.96" fill="none" />
<text x="333.49" y="799.93" font-size="5.85" text-anchor="middle">BRN</text>
<text x="355.22" y="799.41" font-size="5.85" text-anchor="middle" transform="rotate(-90 355.22 799.41)">RED</text>
<path d="M367.19 810.61L367.19 785.21L419.57 785.21" stroke="#000" stroke-width="1.08" fill="none" />
<path d="M419.57 784.15q1.2 0.3 1 1.8q-.2 1.2 -1.2 1.6" stroke="#000" stroke-width="0.6" fill="none"/>
<text x="408.25" y="782.88" font-size="5.85" text-anchor="middle">WHT</text>
<text x="424.09" y="787.79" font-size="6" font-weight="bold" letter-spacing="0.28">FOG LT SW</text>
<path d="M376.09 810.53L376.09 801.93L419.71 801.93" stroke="#000" stroke-width="1.08" fill="none" />
<path d="M419.71 800.95q1.2 0.3 1 1.8q-.2 1.2 -1.2 1.6" stroke="#000" stroke-width="0.6" fill="none"/>
<text x="400.89" y="799.65" font-size="5.85" text-anchor="middle">BLU–WHT</text>
<text x="424.19" y="799.49" font-size="6" font-weight="bold" letter-spacing="0.28">FUSE #4</text>
<text x="424.19" y="806.39" font-size="6" font-weight="bold" letter-spacing="0.28">(ENG COMPT EDB)</text>
<circle cx="358.24" cy="828.69" r="2.3" fill="#000"/>
<circle cx="358.4" cy="846.69" r="2.3" fill="#000"/>
<path d="M358.16 819.39L358.16 828.69" stroke="#000" stroke-width="0.84" fill="none" />
<path d="M349.46 819.46L349.46 846.76L358.4 846.76" stroke="#000" stroke-width="0.84" fill="none" />
<path d="M358.19 845.89L354.76 834.79" stroke="#000" stroke-width="0.8"/>
<path d="M353.87 831.93L356.1 834.38L353.42 835.21Z" fill="#000"/>
<path d="M360.72 836.87L363.72 836.87" stroke="#000" stroke-width="0.72" fill="none" />
<path d="M367.26 819.31L367.26 830.81" stroke="#000" stroke-width="0.84" fill="none" />
<path d="M367.36 830.81q-3.2 1.83 0 3.67q-3.2 1.83 0 3.67q-3.2 1.83 0 3.67" stroke="#000" stroke-width="0.6" fill="none"/>
<path d="M367.46 841.81L367.46 846.61L376.4 846.61L376.4 819.23" stroke="#000" stroke-width="0.84" fill="none" />
<text x="389.02" y="825.7" font-size="6" font-weight="bold" letter-spacing="0.28">FOG LT</text>
<text x="389.02" y="832.5" font-size="6" font-weight="bold" letter-spacing="0.28">RELAY</text>
<text x="389.02" y="839.3" font-size="6" font-weight="bold" letter-spacing="0.28">(ENG COMPT</text>
<text x="389.02" y="846.1" font-size="6" font-weight="bold" letter-spacing="0.28">EDB)</text>
<text x="472.49" y="558.16" font-size="6" font-weight="bold" text-anchor="middle" letter-spacing="0.28">RAD FAN</text>
<text x="472.49" y="564.81" font-size="6" font-weight="bold" text-anchor="middle" letter-spacing="0.28">TEMP SW</text>
<text x="472.49" y="571.46" font-size="6" font-weight="bold" text-anchor="middle" letter-spacing="0.28">2 SPEED (A/T)</text>
<rect x="454.82" y="573.34" width="35.3" height="35" fill="none" stroke="#000" stroke-width="0.6" />
<path d="M463.7 582.46L463.7 599.66" stroke="#000" stroke-width="0.96" fill="none" />
<circle cx="463.7" cy="582.46" r="2.1" fill="#000"/>
<circle cx="463.78" cy="591.66" r="2.1" fill="#000"/>
<circle cx="463.85" cy="599.66" r="2.1" fill="#000"/>
<circle cx="481.2" cy="582.31" r="2.1" fill="#000"/>
<circle cx="481.35" cy="599.51" r="2.1" fill="#000"/>
<path d="M481.2 582.31L469.27 579.27" stroke="#000" stroke-width="0.8"/>
<path d="M466.37 578.54L469.62 577.92L468.93 580.63Z" fill="#000"/>
<path d="M481.35 599.51L469.48 602.74" stroke="#000" stroke-width="0.8"/>
<path d="M466.58 603.53L469.11 601.39L469.85 604.1Z" fill="#000"/>
<path d="M481.2 582.41L533.2 582.41" stroke="#000" stroke-width="0.96" fill="none" />
<path d="M463.78 591.66L533.28 591.66" stroke="#000" stroke-width="1.08" fill="none" />
<path d="M481.35 599.61L533.35 599.61" stroke="#000" stroke-width="0.96" fill="none" />
<rect x="533.16" y="577.65" width="9.2" height="9.2" fill="none" stroke="#000" stroke-width="0.72" />
<rect x="533.24" y="586.85" width="9.2" height="8.8" fill="none" stroke="#000" stroke-width="0.72" />
<rect x="533.32" y="595.65" width="9.2" height="7.9" fill="none" stroke="#000" stroke-width="0.72" />
<text x="524.08" y="579.76" font-size="5.85" text-anchor="middle">BLU</text>
<text x="524.16" y="588.96" font-size="5.85" text-anchor="middle">BLK</text>
<text x="515.03" y="597.34" font-size="5.85" text-anchor="middle">BLU–WHT</text>
<text x="552.68" y="579.91" font-size="5.85" text-anchor="middle">BLU</text>
<text x="552.46" y="588.71" font-size="5.85" text-anchor="middle">BLK</text>
<path d="M542.4 582.57L586.6 582.57L586.6 784.39Q587.74 792.88 594.74 793.12L683.44 793.12" stroke="#000" stroke-width="0.96" fill="none" />
<path d="M542.48 591.37L564.18 591.37" stroke="#000" stroke-width="1.08" fill="none" />
<circle cx="564.18" cy="591.38" r="2.3" fill="#000"/>
<path d="M567.08 586.98V595.78" stroke="#000" stroke-width="0.65"/>
<path d="M568.68 588.68V594.08" stroke="#000" stroke-width="0.65"/>
<path d="M570.28 590.28V592.48" stroke="#000" stroke-width="0.65"/>
<path d="M542.55 599.57L709.55 599.57" stroke="#000" stroke-width="1.08" fill="none" />
<text x="516.35" y="610.38" font-size="6" font-weight="bold" text-anchor="middle" letter-spacing="0.28">RAD FAN</text>
<text x="516.35" y="616.98" font-size="6" font-weight="bold" text-anchor="middle" letter-spacing="0.28">MOTOR</text>
<text x="516.35" y="623.58" font-size="6" font-weight="bold" text-anchor="middle" letter-spacing="0.28">2 SPEED (A/T)</text>
<circle cx="516.16" cy="634.6" r="7.1" fill="none" stroke="#000" stroke-width="0.84"/>
<circle cx="472.06" cy="634.89" r="2.3" fill="#000"/>
<path d="M469.16 630.49V639.29" stroke="#000" stroke-width="0.65"/>
<path d="M467.56 632.19V637.59" stroke="#000" stroke-width="0.65"/>
<path d="M465.96 633.79V635.99" stroke="#000" stroke-width="0.65"/>
<circle cx="472.14" cy="644.09" r="2.3" fill="#000"/>
<path d="M469.24 639.69V648.49" stroke="#000" stroke-width="0.65"/>
<path d="M467.64 641.39V646.79" stroke="#000" stroke-width="0.65"/>
<path d="M466.04 642.99V645.19" stroke="#000" stroke-width="0.65"/>
<path d="M472.06 634.89L507.36 634.89" stroke="#000" stroke-width="1.08" fill="none" />
<path d="M472.14 644.09L498.74 644.09L507.36 634.68" stroke="#000" stroke-width="1.08" fill="none" />
<text x="482.34" y="632.33" font-size="5.85" text-anchor="middle">BLK</text>
<text x="482.12" y="641.53" font-size="5.85" text-anchor="middle">BLK</text>
<circle cx="507.36" cy="634.68" r="2.3" fill="#000"/>
<circle cx="524.86" cy="634.63" r="2.3" fill="#000"/>
<path d="M524.86 634.63L533.58 626.15L709.78 626.15" stroke="#000" stroke-width="1.08" fill="none" />
<path d="M524.86 634.63L709.86 634.63" stroke="#000" stroke-width="1.08" fill="none" />
<path d="M524.86 634.63L533.44 644.35L533.44 688.05" stroke="#000" stroke-width="1.08" fill="none" />
<text x="531.07" y="655.17" font-size="5.85" text-anchor="middle" transform="rotate(-90 531.07 655.17)">GRN</text>
<circle cx="533.67" cy="670.65" r="2.3" fill="#000"/>
<circle cx="533.82" cy="688.15" r="2.3" fill="#000"/>
<rect x="530.09" y="672.78" width="7.4" height="13.3" fill="#fff" stroke="#000" stroke-width="0.84" />
<path d="M532.9 674.36l2.2 1.67l-2.2 1.67l2.2 1.67l-2.2 1.67l2.2 1.67l-2.2 1.67" stroke="#000" stroke-width="0.6" fill="none"/>
<text x="542.69" y="672.55" font-size="6" font-weight="bold" letter-spacing="0.28">RAD</text>
<text x="542.69" y="679.2" font-size="6" font-weight="bold" letter-spacing="0.28">FAN</text>
<text x="542.69" y="685.85" font-size="6" font-weight="bold" letter-spacing="0.28">RESISTOR</text>
<text x="542.69" y="692.5" font-size="6" font-weight="bold" letter-spacing="0.28">(A/T)</text>
<text x="485.46" y="681.05" font-size="6" font-weight="bold" text-anchor="middle" letter-spacing="0.28">RAD FAN</text>
<text x="485.46" y="688.05" font-size="6" font-weight="bold" text-anchor="middle" letter-spacing="0.28">MOTOR (M/T)</text>
<circle cx="485.11" cy="697.88" r="7" fill="none" stroke="#000" stroke-width="0.84"/>
<circle cx="480.97" cy="705.11" r="2.3" fill="#000"/>
<circle cx="489.77" cy="705.14" r="2.3" fill="#000"/>
<circle cx="445.83" cy="723.12" r="2.3" fill="#000"/>
<path d="M442.93 718.72V727.52" stroke="#000" stroke-width="0.65"/>
<path d="M441.33 720.42V725.82" stroke="#000" stroke-width="0.65"/>
<path d="M439.73 722.02V724.22" stroke="#000" stroke-width="0.65"/>
<path d="M445.83 723.12L481.13 723.12L481.13 705.11" stroke="#000" stroke-width="1.08" fill="none" />
<text x="456.1" y="720.36" font-size="5.85" text-anchor="middle">BLK</text>
<text x="500.6" y="720.37" font-size="5.85" text-anchor="middle">GRN</text>
<path d="M489.77 705.14L489.77 722.94L516.63 722.94Q523.93 723.44 524.49 730.43L524.49 767.43L683.22 767.43" stroke="#000" stroke-width="1.08" fill="none" />
<path d="M533.52 688.15L533.52 715.85Q533.13 723.36 524.49 730.43" stroke="#000" stroke-width="1.08" fill="none" />
<text x="531.28" y="702.77" font-size="5.85" text-anchor="middle" transform="rotate(-90 531.28 702.77)">GRN</text>
<path d="M594.74 793.12Q586.25 794.4 586.02 802.3L534.02 802.3L534.02 846.55" stroke="#000" stroke-width="0.96" fill="none" />
<circle cx="489.65" cy="828.54" r="2.3" fill="#000"/>
<path d="M486.75 824.14V832.94" stroke="#000" stroke-width="0.65"/>
<path d="M485.15 825.84V831.24" stroke="#000" stroke-width="0.65"/>
<path d="M483.55 827.44V829.64" stroke="#000" stroke-width="0.65"/>
<path d="M489.65 828.54L525.25 828.54L525.25 846.63" stroke="#000" stroke-width="1.08" fill="none" />
<text x="499.73" y="825.98" font-size="5.85" text-anchor="middle">BLK</text>
<text x="531.04" y="835.88" font-size="5.85" text-anchor="middle" transform="rotate(-90 531.04 835.88)">BLU</text>
<circle cx="525.41" cy="846.63" r="2.1" fill="#000"/>
<circle cx="533.81" cy="846.66" r="2.1" fill="#000"/>
<rect x="520.42" y="848.37" width="17.5" height="6.3" fill="#fff" stroke="#000" stroke-width="0.84" />
<rect x="524.98" y="854.63" width="8.8" height="5" fill="none" stroke="#000" stroke-width="0.84" />
<text x="529.38" y="866.18" font-size="6" font-weight="bold" text-anchor="middle" letter-spacing="0.28">RAD FAN</text>
<text x="529.38" y="872.98" font-size="6" font-weight="bold" text-anchor="middle" letter-spacing="0.28">TEMP SW (M/T)</text>
<text x="736.11" y="570.96" font-size="6" font-weight="bold" text-anchor="middle" letter-spacing="0.28">RAD FAN</text>
<text x="736.11" y="577.61" font-size="6" font-weight="bold" text-anchor="middle" letter-spacing="0.28">2 SPEED</text>
<text x="736.11" y="584.26" font-size="6" font-weight="bold" text-anchor="middle" letter-spacing="0.28">RELAY (A/T)</text>
<rect x="717.98" y="591.04" width="35.7" height="62" fill="none" stroke="#000" stroke-width="0.84" />
<rect x="709.52" y="595.31" width="8.5" height="7.8" fill="none" stroke="#000" stroke-width="0.72" />
<text x="713.87" y="601.12" font-size="5.6" font-weight="bold" text-anchor="middle">5</text>
<rect x="709.59" y="603.11" width="8.5" height="8.9" fill="none" stroke="#000" stroke-width="0.72" />
<text x="713.94" y="609.47" font-size="5.6" font-weight="bold" text-anchor="middle">4</text>
<rect x="709.67" y="612.01" width="8.5" height="10" fill="none" stroke="#000" stroke-width="0.72" />
<rect x="709.75" y="622.01" width="8.5" height="8.3" fill="none" stroke="#000" stroke-width="0.72" />
<text x="714.11" y="628.07" font-size="5.6" font-weight="bold" text-anchor="middle">3</text>
<rect x="709.83" y="630.31" width="8.5" height="9.2" fill="none" stroke="#000" stroke-width="0.72" />
<text x="714.18" y="636.82" font-size="5.6" font-weight="bold" text-anchor="middle">2</text>
<rect x="709.91" y="639.51" width="8.5" height="8.6" fill="none" stroke="#000" stroke-width="0.72" />
<text x="714.26" y="645.72" font-size="5.6" font-weight="bold" text-anchor="middle">1</text>
<path d="M709.67 612.21L718.25 621.54" stroke="#000" stroke-width="0.6" fill="none" />
<text x="690.84" y="597.51" font-size="5.85" text-anchor="middle">BLU–WHT</text>
<text x="698.41" y="605.74" font-size="5.85" text-anchor="middle">GRY</text>
<text x="698.56" y="623.24" font-size="5.85" text-anchor="middle">WHT</text>
<text x="690.34" y="632.21" font-size="5.85" text-anchor="middle">GRN–WHT</text>
<text x="691.22" y="641.31" font-size="5.85" text-anchor="middle">YEL–WHT</text>
<path d="M674.33 606.92q-1.2 0.3 -1 1.8q.2 1.2 1.2 1.6" stroke="#000" stroke-width="0.6" fill="none"/>
<path d="M674.63 608.12L709.63 608.12" stroke="#000" stroke-width="1.08" fill="none" />
<text x="669.81" y="605.54" font-size="6" font-weight="bold" text-anchor="end" letter-spacing="0.28">FUSE #6</text>
<text x="669.81" y="612.24" font-size="6" font-weight="bold" text-anchor="end" letter-spacing="0.28">(ENG COMPT EDB)</text>
<path d="M709.94 643.41L647.64 643.41L647.64 652.56" stroke="#000" stroke-width="1.08" fill="none" />
<path d="M646.52 652.76q0.3 1.2 1.8 1q1.2 -.2 1.6 -1.2" stroke="#000" stroke-width="0.6" fill="none"/>
<text x="648.09" y="661.23" font-size="6" font-weight="bold" text-anchor="middle" letter-spacing="0.28">FUSE #6</text>
<text x="648.09" y="667.93" font-size="6" font-weight="bold" text-anchor="middle" letter-spacing="0.28">(ENGINE</text>
<text x="648.09" y="674.63" font-size="6" font-weight="bold" text-anchor="middle" letter-spacing="0.28">COMPT EDB)</text>
<path d="M718.05 599.04L744.75 599.04L744.75 607.81L742.65 609.83L739.65 609.83" stroke="#000" stroke-width="0.72" fill="none" />
<path d="M718.13 607.94L729.63 607.94L731.15 609.93L733.15 609.93" stroke="#000" stroke-width="0.72" fill="none" />
<path d="M733.15 609.91q0.8 -3.6 1.6 0q0.8 -3.6 1.6 0q0.8 -3.6 1.6 0q0.8 -3.6 1.6 0" stroke="#000" stroke-width="0.7" fill="none"/>
<path d="M735.46 611.59L735.46 632.59" stroke="#000" stroke-width="0.72" fill="none" stroke-dasharray="2.6 1.6"/>
<path d="M718.29 625.74L727.79 625.74L727.79 634.66" stroke="#000" stroke-width="0.72" fill="none" />
<path d="M718.37 634.74L727.07 634.74" stroke="#000" stroke-width="0.72" fill="none" />
<path d="M718.44 643.54L745.14 643.54L745.14 634.5" stroke="#000" stroke-width="0.72" fill="none" />
<circle cx="727.07" cy="634.76" r="2.1" fill="#000"/>
<circle cx="744.57" cy="634.71" r="2.1" fill="#000"/>
<path d="M744.57 634.71L732.76 638.6" stroke="#000" stroke-width="0.8"/>
<path d="M729.91 639.54L732.32 637.27L733.2 639.93Z" fill="#000"/>
<text x="647.73" y="711.74" font-size="6" font-weight="bold" text-anchor="middle" letter-spacing="0.28">FUSE #7</text>
<text x="647.73" y="718.44" font-size="6" font-weight="bold" text-anchor="middle" letter-spacing="0.28">(ENGINE</text>
<text x="647.73" y="725.14" font-size="6" font-weight="bold" text-anchor="middle" letter-spacing="0.28">COMPT EDB)</text>
<path d="M646.71 731.66q0.3 -1.2 1.8 -1q1.2 .2 1.6 1.2" stroke="#000" stroke-width="0.6" fill="none"/>
<path d="M647.91 731.66L647.91 758.76L683.14 758.76" stroke="#000" stroke-width="1.08" fill="none" />
<text x="673.12" y="755.97" font-size="5.85" text-anchor="middle">YEL</text>
<text x="672" y="764.88" font-size="5.85" text-anchor="middle">GRN</text>
<text x="727.03" y="733.95" font-size="6" font-weight="bold" text-anchor="middle" letter-spacing="0.28">RAD FAN TIME</text>
<text x="727.03" y="740.75" font-size="6" font-weight="bold" text-anchor="middle" letter-spacing="0.28">DELAY RELAY</text>
<text x="727.03" y="747.55" font-size="6" font-weight="bold" text-anchor="middle" letter-spacing="0.28">(ENG COMPT EDB)</text>
<rect x="700.06" y="749.3" width="53.8" height="87.8" fill="none" stroke="#000" stroke-width="0.84" />
<rect x="683.1" y="753.85" width="17" height="8.9" fill="none" stroke="#000" stroke-width="0.72" />
<text x="691.66" y="760.17" font-size="5.6" font-weight="bold" text-anchor="middle">30</text>
<rect x="683.18" y="762.75" width="17" height="8.6" fill="none" stroke="#000" stroke-width="0.72" />
<text x="691.74" y="768.92" font-size="5.6" font-weight="bold" text-anchor="middle">87</text>
<rect x="683.26" y="771.35" width="17" height="17.5" fill="none" stroke="#000" stroke-width="0.72" />
<rect x="683.41" y="788.85" width="17" height="8.7" fill="none" stroke="#000" stroke-width="0.72" />
<text x="691.96" y="795.07" font-size="5.6" font-weight="bold" text-anchor="middle">31T</text>
<rect x="683.48" y="797.55" width="17" height="8.8" fill="none" stroke="#000" stroke-width="0.72" />
<rect x="683.56" y="806.35" width="17" height="9.2" fill="none" stroke="#000" stroke-width="0.72" />
<text x="692.12" y="812.82" font-size="5.6" font-weight="bold" text-anchor="middle">31</text>
<rect x="683.64" y="815.55" width="17" height="8.7" fill="none" stroke="#000" stroke-width="0.72" />
<text x="692.2" y="821.77" font-size="5.6" font-weight="bold" text-anchor="middle">15</text>
<path d="M648.37 783.45q-1.2 0.3 -1 1.8q.2 1.2 1.2 1.6" stroke="#000" stroke-width="0.6" fill="none"/>
<path d="M648.67 784.75L674.97 784.75L683.45 793.05" stroke="#000" stroke-width="0.96" fill="none" />
<text x="668.85" y="782.71" font-size="5.85" text-anchor="middle">BLU</text>
<text x="668.92" y="790.71" font-size="5.85" text-anchor="middle">BLU</text>
<text x="643.39" y="786.68" font-size="6" font-weight="bold" text-anchor="end" letter-spacing="0.28">A/C PRES SW</text>
<circle cx="656.6" cy="810.88" r="2.3" fill="#000"/>
<path d="M653.7 806.48V815.28" stroke="#000" stroke-width="0.65"/>
<path d="M652.1 808.18V813.58" stroke="#000" stroke-width="0.65"/>
<path d="M650.5 809.78V811.98" stroke="#000" stroke-width="0.65"/>
<path d="M656.6 810.88L683.6 810.88" stroke="#000" stroke-width="1.08" fill="none" />
<text x="672.68" y="808.17" font-size="5.85" text-anchor="middle">BLK</text>
<text x="671.96" y="817.38" font-size="5.85" text-anchor="middle">GRY</text>
<path d="M639.48 818.53q-1.2 0.3 -1 1.8q.2 1.2 1.2 1.6" stroke="#000" stroke-width="0.6" fill="none"/>
<path d="M639.78 819.73L683.68 819.73" stroke="#000" stroke-width="1.08" fill="none" />
<text x="634.95" y="816.65" font-size="6" font-weight="bold" text-anchor="end" letter-spacing="0.28">FUSE #6</text>
<text x="634.95" y="823.35" font-size="6" font-weight="bold" text-anchor="end" letter-spacing="0.28">(ENG COMPT EDB)</text>
<path d="M700.14 758.3L744.74 758.3L744.74 766.91L735.72 766.91" stroke="#000" stroke-width="0.72" fill="none" />
<path d="M700.22 767.4L718.22 767.4" stroke="#000" stroke-width="0.72" fill="none" />
<circle cx="718.22" cy="767.44" r="2.1" fill="#000"/>
<circle cx="735.72" cy="767.39" r="2.1" fill="#000"/>
<circle cx="718.45" cy="793.04" r="2.1" fill="#000"/>
<circle cx="735.95" cy="792.99" r="2.1" fill="#000"/>
<path d="M735.72 767.39L723.86 763.87" stroke="#000" stroke-width="0.8"/>
<path d="M720.98 763.02L724.26 762.53L723.46 765.22Z" fill="#000"/>
<path d="M735.72 767.39L744.9 776.01L744.9 793.01L735.95 793.01" stroke="#000" stroke-width="0.72" fill="none" />
<path d="M700.45 793.1L718.45 793.1" stroke="#000" stroke-width="0.72" fill="none" />
<path d="M726.83 768.17L726.83 783.17" stroke="#000" stroke-width="0.72" fill="none" stroke-dasharray="2.6 1.6"/>
<path d="M718.45 793.04v-4.5q0.3 -3.5 3.5 -4h1.8q0.8 -3.4 1.6 0q0.8 -3.4 1.6 0q0.8 -3.4 1.6 0q0.8 -3.4 1.6 0h2" stroke="#000" stroke-width="0.7" fill="none"/>
<path d="M718.45 793.04L718.45 801.94" stroke="#000" stroke-width="0.72" fill="none" />
<path d="M735.95 792.99L735.95 801.79" stroke="#000" stroke-width="0.72" fill="none" />
<rect x="709.33" y="802.12" width="36.2" height="26.6" fill="none" stroke="#000" stroke-width="0.84" />
<path d="M700.6 810.2L709.4 810.2" stroke="#000" stroke-width="0.72" fill="none" />
<path d="M700.61 811.8L709.41 811.8" stroke="#000" stroke-width="0.72" fill="none" />
<path d="M700.68 819.3L709.48 819.3" stroke="#000" stroke-width="0.72" fill="none" />
<text x="270.71" y="871.23" font-size="6" font-weight="bold" letter-spacing="0.28">HEADLT</text>
<path d="M281.66 876.26a45.6 45.6 0 0 0 0 46.6l19.5 -6.3v-34.2z" stroke="#000" stroke-width="0.85" fill="none"/>
<path d="M280.46 877.76v43.6" stroke="#000" stroke-width="0.7" fill="none"/>
<path d="M301.24 885.39L305.74 885.39M301.46 910.99L305.46 910.99L305.46 913.49L301.46 913.49" stroke="#000" stroke-width="0.6" fill="none" />
<path d="M284.99 891.13l3.6 2l-3.6 2l3.6 2l-3.6 2l3.6 2l-3.6 2l3.6 2l-3.6 2" stroke="#000" stroke-width="0.75" fill="none"/>
<path d="M293.58 890.85l3.8 2.25l-3.8 2.25l3.8 2.25l-3.8 2.25" stroke="#000" stroke-width="0.75" fill="none"/>
<path d="M284.58 890.33L340.78 890.33" stroke="#000" stroke-width="1.2" fill="none" />
<circle cx="340.78" cy="889.94" r="2.3" fill="#000"/>
<path d="M343.68 885.54V894.34" stroke="#000" stroke-width="0.65"/>
<path d="M345.28 887.24V892.64" stroke="#000" stroke-width="0.65"/>
<path d="M346.88 888.84V891.04" stroke="#000" stroke-width="0.65"/>
<path d="M297.16 899.42L349.66 899.42" stroke="#000" stroke-width="1.08" fill="none" />
<path d="M349.66 898.37q1.2 0.3 1 1.8q-.2 1.2 -1.2 1.6" stroke="#000" stroke-width="0.6" fill="none"/>
<path d="M284.73 907.83L349.73 907.83" stroke="#000" stroke-width="1.08" fill="none" />
<path d="M349.74 906.77q1.2 0.3 1 1.8q-.2 1.2 -1.2 1.6" stroke="#000" stroke-width="0.6" fill="none"/>
<text x="315.36" y="887.8" font-size="5.85" text-anchor="middle">BLK</text>
<text x="315.94" y="896.59" font-size="5.85" text-anchor="middle">GRY</text>
<text x="323.91" y="905.42" font-size="5.85" text-anchor="middle">BLU–WHT</text>
<text x="354.18" y="901.31" font-size="6" font-weight="bold" letter-spacing="0.28">FUSE #1</text>
<text x="354.26" y="910.21" font-size="6" font-weight="bold" letter-spacing="0.28">FUSE #3</text>
<path d="M385.42 894.65q4 0.3 4 4.4L389.42 899.25q0 3.6 4 4.4q-4 0 -4 4.4L389.42 908.25q0 3.6 -4 4.4" stroke="#000" stroke-width="0.7" fill="none"/>
<text x="397.96" y="898.92" font-size="6" font-weight="bold" letter-spacing="0.28">ENGINE</text>
<text x="397.96" y="905.62" font-size="6" font-weight="bold" letter-spacing="0.28">COMPT</text>
<text x="397.96" y="912.32" font-size="6" font-weight="bold" letter-spacing="0.28">EDB</text>
<rect x="708.67" y="864.13" width="45" height="70.7" fill="none" stroke="#000" stroke-width="0.96" />
<rect x="691.6" y="868.48" width="17.1" height="9.2" fill="none" stroke="#000" stroke-width="0.72" />
<text x="700.36" y="874.92" font-size="5.5" font-weight="bold" text-anchor="middle">31</text>
<rect x="691.68" y="877.68" width="17.1" height="8.3" fill="none" stroke="#000" stroke-width="0.72" />
<rect x="691.76" y="885.98" width="17.1" height="8.7" fill="none" stroke="#000" stroke-width="0.72" />
<text x="700.51" y="892.17" font-size="5.5" font-weight="bold" text-anchor="middle">31B</text>
<rect x="691.83" y="894.68" width="17.1" height="8.8" fill="none" stroke="#000" stroke-width="0.72" />
<rect x="691.91" y="903.48" width="17.1" height="8.7" fill="none" stroke="#000" stroke-width="0.72" />
<text x="700.66" y="909.67" font-size="5.5" font-weight="bold" text-anchor="middle">53A</text>
<rect x="691.99" y="912.18" width="17.1" height="9.1" fill="none" stroke="#000" stroke-width="0.72" />
<text x="700.74" y="918.57" font-size="5.5" font-weight="bold" text-anchor="middle">53B</text>
<rect x="692.06" y="921.28" width="17.1" height="8.9" fill="none" stroke="#000" stroke-width="0.72" />
<text x="700.82" y="927.57" font-size="5.5" font-weight="bold" text-anchor="middle">53</text>
<circle cx="665.44" cy="873.21" r="2.3" fill="#000"/>
<path d="M662.54 868.81V877.61" stroke="#000" stroke-width="0.65"/>
<path d="M660.94 870.51V875.91" stroke="#000" stroke-width="0.65"/>
<path d="M659.34 872.11V874.31" stroke="#000" stroke-width="0.65"/>
<path d="M665.44 873.21L691.64 873.21" stroke="#000" stroke-width="1.2" fill="none" />
<text x="681.62" y="870.9" font-size="5.85" text-anchor="middle">BLK</text>
<text x="672.57" y="887.68" font-size="5.85" text-anchor="middle">BLU–WHT</text>
<text x="681.03" y="905.4" font-size="5.85" text-anchor="middle">BRN</text>
<text x="681.1" y="914.3" font-size="5.85" text-anchor="middle">GRN</text>
<text x="681.18" y="923.4" font-size="5.85" text-anchor="middle">RED</text>
<path d="M648.39 888.96q-1.2 0.3 -1 1.8q.2 1.2 1.2 1.6" stroke="#000" stroke-width="0.6" fill="none"/>
<path d="M648.59 890.16L691.79 890.16" stroke="#000" stroke-width="1.08" fill="none" />
<text x="643.17" y="887.68" font-size="6" font-weight="bold" text-anchor="end" letter-spacing="0.28">INTERMITTENT</text>
<text x="643.17" y="893.98" font-size="6" font-weight="bold" text-anchor="end" letter-spacing="0.28">WIPER RELAY</text>
<path d="M646.05 907.98q-3.2 0 -3 2.2q0.2 2 -1.4 2.2q1.8 0.3 1.4 2q-.2 2.2 3 2.2" stroke="#000" stroke-width="0.6" fill="none" transform="translate(2.4 -4.3)"/>
<path d="M647.25 907.97L691.95 907.97" stroke="#000" stroke-width="1.08" fill="none" />
<path d="M646.13 917.18q-3.2 0 -3 2.2q0.2 2 -1.4 2.2q1.8 0.3 1.4 2q-.2 2.2 3 2.2" stroke="#000" stroke-width="0.6" fill="none" transform="translate(2.4 -4.3)"/>
<path d="M647.33 917.17L692.03 917.17" stroke="#000" stroke-width="1.08" fill="none" />
<path d="M646.2 925.98q-3.2 0 -3 2.2q0.2 2 -1.4 2.2q1.8 0.3 1.4 2q-.2 2.2 3 2.2" stroke="#000" stroke-width="0.6" fill="none" transform="translate(2.4 -4.3)"/>
<path d="M647.4 925.97L692.1 925.97" stroke="#000" stroke-width="1.08" fill="none" />
<path d="M643.83 917.2l-3.6 3.6l3.6 3.6" stroke="#000" stroke-width="0.6" fill="none" transform="translate(0 -3.6)"/>
<text x="634.5" y="914.16" font-size="6" font-weight="bold" text-anchor="end" letter-spacing="0.28">WIPER/</text>
<text x="634.5" y="920.46" font-size="6" font-weight="bold" text-anchor="end" letter-spacing="0.28">WASHER SW</text>
<path d="M708.74 872.83L744.94 872.83L744.94 925.52L731.2 925.52" stroke="#000" stroke-width="0.72" fill="none" />
<path d="M735.52 881.4L744.72 881.4" stroke="#000" stroke-width="0.72" fill="none" />
<circle cx="735.52" cy="881.4" r="2.1" fill="#000"/>
<circle cx="744.72" cy="881.42" r="2.1" fill="#000"/>
<circle cx="717.89" cy="889.95" r="2.1" fill="#000"/>
<circle cx="735.67" cy="899" r="2.1" fill="#000"/>
<path d="M708.89 889.93L717.89 889.93" stroke="#000" stroke-width="0.72" fill="none" />
<path d="M717.89 889.95L735.52 881.4" stroke="#000" stroke-width="0.96" fill="none" />
<path d="M728.55 884.76L733.53 882.32" stroke="#000" stroke-width="1.92" fill="none" />
<path d="M735.67 899L735.67 907.6L709.05 907.6" stroke="#000" stroke-width="0.72" fill="none" />
<path d="M727.27 887.17L727.27 914.67" stroke="#000" stroke-width="0.72" fill="none" stroke-dasharray="2.6 1.6"/>
<circle cx="725.66" cy="921.09" r="6.6" fill="none" stroke="#000" stroke-width="0.84"/>
<circle cx="718.12" cy="916.55" r="2.1" fill="#000"/>
<circle cx="718.2" cy="925.65" r="2.1" fill="#000"/>
<circle cx="731.2" cy="925.64" r="2.1" fill="#000"/>
<path d="M709.12 916.53L718.12 916.53" stroke="#000" stroke-width="0.72" fill="none" />
<path d="M709.2 925.63L718.2 925.63" stroke="#000" stroke-width="0.72" fill="none" />
<text x="731.34" y="941.02" font-size="6" font-weight="bold" text-anchor="middle" letter-spacing="0.28">WIPER</text>
<text x="731.34" y="947.62" font-size="6" font-weight="bold" text-anchor="middle" letter-spacing="0.28">MOTOR</text>
<text x="270.99" y="960.93" font-size="6" font-weight="bold" letter-spacing="0.28">DIR LT</text>
<circle cx="282.05" cy="978.36" r="10.3" fill="none" stroke="#000" stroke-width="0.9"/>
<path d="M280.55 968.37q-1.9 2.5 0 5q-1.9 2.5 0 5q-1.9 2.5 0 5q-1.9 2.5 0 5" stroke="#000" stroke-width="0.75" fill="none"/>
<path d="M281.25 974.86q1.6 -1.5 3.4 -0.5q0.9 0.9 -0.8 1.5q-1.7 0.4 -2.6 -1z" stroke="#000" stroke-width="0.6" fill="none"/>
<path d="M281.45 983.66q1.6 -1.5 3.4 -0.5q0.9 0.9 -0.8 1.5q-1.7 0.4 -2.6 -1z" stroke="#000" stroke-width="0.6" fill="none"/>
<path d="M282.78 970.35L375.28 970.35" stroke="#000" stroke-width="1.2" fill="none" />
<path d="M375.28 969.34q1.2 0.3 1 1.8q-.2 1.2 -1.2 1.6" stroke="#000" stroke-width="0.6" fill="none"/>
<circle cx="331.98" cy="970.32" r="2.3" fill="#000"/>
<text x="310.55" y="967.54" font-size="5.85" text-anchor="middle">BLU–WHT</text>
<text x="356.45" y="967.44" font-size="5.85" text-anchor="middle">BLU–WHT</text>
<text x="380.3" y="972.28" font-size="6" font-weight="bold" letter-spacing="0.28">DIR/HAZ SW</text>
<path d="M331.98 970.32L331.98 943.42L375.04 943.42" stroke="#000" stroke-width="1.08" fill="none" />
<path d="M375.05 942.45q1.2 0.3 1 1.8q-.2 1.2 -1.2 1.6" stroke="#000" stroke-width="0.6" fill="none"/>
<text x="356.32" y="940.74" font-size="5.85" text-anchor="middle">BLU–WHT</text>
<text x="380.07" y="945.58" font-size="6" font-weight="bold" letter-spacing="0.28">REAR DIR LT</text>
<path d="M331.98 970.32L341.82 952.44L375.12 952.44" stroke="#000" stroke-width="1.08" fill="none" />
<path d="M375.13 951.55q1.2 0.3 1 1.8q-.2 1.2 -1.2 1.6" stroke="#000" stroke-width="0.6" fill="none"/>
<text x="356.4" y="949.64" font-size="5.85" text-anchor="middle">BLU–WHT</text>
<text x="380.14" y="954.48" font-size="6" font-weight="bold" letter-spacing="0.28">INST CLSTR</text>
<path d="M331.98 970.32L341 961.44L428.1 961.44L428.1 1085.78" stroke="#000" stroke-width="1.08" fill="none" />
<path d="M281.35 978.26L357.85 978.26L357.85 1040.1L280.39 1040.1" stroke="#000" stroke-width="1.08" fill="none" />
<text x="302.03" y="976.41" font-size="5.85" text-anchor="middle">BLK</text>
<text x="302.1" y="984.61" font-size="5.85" text-anchor="middle">BLU</text>
<path d="M285.42 987.03L332.12 987.03L332.12 1031.12" stroke="#000" stroke-width="1.2" fill="none" />
<text x="270.52" y="998.24" font-size="6" font-weight="bold" letter-spacing="0.28">SIDE MARKER LT</text>
<circle cx="357.86" cy="1013.4" r="2.3" fill="#000"/>
<path d="M354.96 1009V1017.8" stroke="#000" stroke-width="0.65"/>
<path d="M353.36 1010.7V1016.1" stroke="#000" stroke-width="0.65"/>
<path d="M351.76 1012.3V1014.5" stroke="#000" stroke-width="0.65"/>
<path d="M357.86 1013.4L463.06 1013.4L463.06 1085.48" stroke="#000" stroke-width="1.08" fill="none" />
<text x="270.73" y="1022.54" font-size="6" font-weight="bold" letter-spacing="0.28">PARK LT</text>
<circle cx="282.08" cy="1039.66" r="10.3" fill="none" stroke="#000" stroke-width="0.9"/>
<path d="M280.58 1029.67q-1.9 2.5 0 5q-1.9 2.5 0 5q-1.9 2.5 0 5q-1.9 2.5 0 5" stroke="#000" stroke-width="0.75" fill="none"/>
<path d="M281.28 1036.16q1.6 -1.5 3.4 -0.5q0.9 0.9 -0.8 1.5q-1.7 0.4 -2.6 -1z" stroke="#000" stroke-width="0.6" fill="none"/>
<path d="M281.48 1044.96q1.6 -1.5 3.4 -0.5q0.9 0.9 -0.8 1.5q-1.7 0.4 -2.6 -1z" stroke="#000" stroke-width="0.6" fill="none"/>
<path d="M285.81 1031.53L367.11 1031.53" stroke="#000" stroke-width="1.2" fill="none" />
<path d="M367.12 1030.42q1.2 0.3 1 1.8q-.2 1.2 -1.2 1.6" stroke="#000" stroke-width="0.6" fill="none"/>
<circle cx="332.01" cy="1031.32" r="2.3" fill="#000"/>
<text x="302.09" y="1028.92" font-size="5.85" text-anchor="middle">BLU</text>
<text x="342.09" y="1028.67" font-size="5.85" text-anchor="middle">BLU</text>
<text x="302.17" y="1037.92" font-size="5.85" text-anchor="middle">BLK</text>
<text x="371.63" y="1033.16" font-size="6" font-weight="bold" letter-spacing="0.28">FUSE #30 (EDB)</text>
<path d="M287.66 1049.01L340.96 1049.01" stroke="#000" stroke-width="1.08" fill="none" />
<path d="M340.97 1047.95q1.2 0.3 1 1.8q-.2 1.2 -1.2 1.6" stroke="#000" stroke-width="0.6" fill="none"/>
<text x="310.64" y="1046.64" font-size="5.85" text-anchor="middle">GRY–RED</text>
<text x="344.78" y="1051.09" font-size="6" font-weight="bold" letter-spacing="0.28">DIR/HAZ SW</text>
<text x="270.76" y="1060.04" font-size="6" font-weight="bold" letter-spacing="0.28">CORNERING LT</text>
<circle cx="384.19" cy="1074.47" r="2.3" fill="#000"/>
<path d="M381.29 1070.07V1078.87" stroke="#000" stroke-width="0.65"/>
<path d="M379.69 1071.77V1077.17" stroke="#000" stroke-width="0.65"/>
<path d="M378.09 1073.37V1075.57" stroke="#000" stroke-width="0.65"/>
<path d="M384.19 1074.47L419.59 1074.47L419.59 1085.86" stroke="#000" stroke-width="1.08" fill="none" />
<text x="394.47" y="1072.3" font-size="5.2" text-anchor="middle">BLK</text>
<text x="425.54" y="1064.91" font-size="5.85" text-anchor="middle" transform="rotate(-90 425.54 1064.91)">BLU–WHT</text>
<circle cx="424.21" cy="1088.22" r="6.8" fill="none" stroke="#000" stroke-width="0.84"/>
<circle cx="424.19" cy="1086.22" r="4.6" fill="none" stroke="#000" stroke-width="0.84"/>
<path d="M423 1087.32q0.2 -2 1.2 -2q1 0 1.2 2q0 1.4 -1.2 1.4q-1.2 0 -1.2 -1.4" stroke="#000" stroke-width="0.55" fill="none"/>
<text x="424.14" y="1103.4" font-size="6" font-weight="bold" text-anchor="middle" letter-spacing="0.28">SIDE</text>
<text x="424.14" y="1110" font-size="6" font-weight="bold" text-anchor="middle" letter-spacing="0.28">DIR LT</text>
<text x="472.29" y="993.38" font-size="6" font-weight="bold" text-anchor="middle" letter-spacing="0.28">BACK–UP</text>
<text x="472.29" y="1000.18" font-size="6" font-weight="bold" text-anchor="middle" letter-spacing="0.28">LT SW</text>
<path d="M470.68 1004.5q0.3 -1.2 1.8 -1q1.2 .2 1.6 1.2" stroke="#000" stroke-width="0.6" fill="none"/>
<path d="M471.88 1004.5L471.88 1085.4" stroke="#000" stroke-width="1.08" fill="none" />
<circle cx="472.07" cy="1049.1" r="2.1" fill="#000"/>
<path d="M472.07 1049.1L498.57 1049.1" stroke="#000" stroke-width="1.08" fill="none" />
<path d="M498.58 1048.17q1.2 0.3 1 1.8q-.2 1.2 -1.2 1.6" stroke="#000" stroke-width="0.6" fill="none"/>
<text x="487.35" y="1046.4" font-size="5.85" text-anchor="middle">WHT</text>
<text x="502.85" y="1047.01" font-size="6" font-weight="bold" letter-spacing="0.28">RT SIDE</text>
<text x="502.85" y="1053.41" font-size="6" font-weight="bold" letter-spacing="0.28">BACK–UP LT</text>
<text x="469.62" y="1016.42" font-size="5.85" text-anchor="middle" transform="rotate(-90 469.62 1016.42)">WHT</text>
<text x="469.71" y="1072.82" font-size="5.85" text-anchor="middle" transform="rotate(-90 469.71 1072.82)">WHT</text>
<text x="460.1" y="1072.91" font-size="5.2" text-anchor="middle" transform="rotate(-90 460.1 1072.91)">BLK</text>
<circle cx="467.31" cy="1087.85" r="6.8" fill="none" stroke="#000" stroke-width="0.84"/>
<circle cx="467.29" cy="1085.85" r="4.6" fill="none" stroke="#000" stroke-width="0.84"/>
<path d="M466.1 1086.95q0.2 -2 1.2 -2q1 0 1.2 2q0 1.4 -1.2 1.4q-1.2 0 -1.2 -1.4" stroke="#000" stroke-width="0.55" fill="none"/>
<text x="467.54" y="1103.02" font-size="6" font-weight="bold" text-anchor="middle" letter-spacing="0.28">SIDE BACK–</text>
<text x="467.54" y="1110.03" font-size="6" font-weight="bold" text-anchor="middle" letter-spacing="0.28">UP LT</text>
<text x="555.8" y="971.75" font-size="6" font-weight="bold" text-anchor="end" letter-spacing="0.28">WIPER SW</text>
<path d="M559.99 969.23q-1.2 0.3 -1 1.8q.2 1.2 1.2 1.6" stroke="#000" stroke-width="0.6" fill="none"/>
<path d="M560.29 970.43L603.79 970.43L603.79 1058.05L664.85 1058.05" stroke="#000" stroke-width="1.08" fill="none" />
<text x="569.56" y="967.38" font-size="5.85" text-anchor="middle">YEL</text>
<text x="569.71" y="984.38" font-size="5.85" text-anchor="middle">YEL</text>
<text x="569.79" y="993.58" font-size="5.85" text-anchor="middle">BLK</text>
<circle cx="552.17" cy="991.3" r="6.6" fill="none" stroke="#000" stroke-width="0.84"/>
<circle cx="559.63" cy="987.04" r="2.1" fill="#000"/>
<circle cx="559.71" cy="995.54" r="2.1" fill="#000"/>
<circle cx="603.94" cy="987.15" r="2.1" fill="#000"/>
<path d="M559.63 987.04L664.74 987.42" stroke="#000" stroke-width="1.08" fill="none" />
<path d="M559.71 995.54L586.31 995.54" stroke="#000" stroke-width="1.2" fill="none" />
<circle cx="586.31" cy="995.7" r="2.3" fill="#000"/>
<path d="M589.21 991.3V1000.1" stroke="#000" stroke-width="0.65"/>
<path d="M590.81 993V998.4" stroke="#000" stroke-width="0.65"/>
<path d="M592.41 994.6V996.8" stroke="#000" stroke-width="0.65"/>
<text x="528.75" y="988.99" font-size="6" font-weight="bold" text-anchor="middle" letter-spacing="0.28">WASHER</text>
<text x="528.75" y="995.69" font-size="6" font-weight="bold" text-anchor="middle" letter-spacing="0.28">MOTOR</text>
<path d="M664.89 1004.82L621.09 1004.5L621.09 1074.4" stroke="#000" stroke-width="1.08" fill="none" />
<circle cx="621.4" cy="1074.5" r="2.1" fill="#000"/>
<text x="564.51" y="1076.18" font-size="6" font-weight="bold" text-anchor="end" letter-spacing="0.28">FUSE #7 (EDB)</text>
<path d="M568.4 1073.26q-1.2 0.3 -1 1.8q.2 1.2 1.2 1.6" stroke="#000" stroke-width="0.6" fill="none"/>
<path d="M568.7 1074.46L665 1074.52" stroke="#000" stroke-width="1.08" fill="none" />
<text x="579.18" y="1072.09" font-size="5.2" text-anchor="middle">RED</text>
<text x="713.77" y="967.37" font-size="6" font-weight="bold" text-anchor="middle" letter-spacing="0.28">RIGHT HEADLT</text>
<text x="713.77" y="973.77" font-size="6" font-weight="bold" text-anchor="middle" letter-spacing="0.28">WIPER MOTOR</text>
<rect x="673.86" y="978.44" width="79.5" height="53" fill="none" stroke="#000" stroke-width="0.66" />
<rect x="664.7" y="982.42" width="9.2" height="9.1" fill="none" stroke="#000" stroke-width="0.72" />
<rect x="664.78" y="991.52" width="9.2" height="8.7" fill="none" stroke="#000" stroke-width="0.72" />
<rect x="664.85" y="1000.22" width="9.2" height="8.3" fill="none" stroke="#000" stroke-width="0.72" />
<rect x="664.93" y="1008.52" width="9.2" height="9.2" fill="none" stroke="#000" stroke-width="0.72" />
<rect x="665.01" y="1017.72" width="9.2" height="8.8" fill="none" stroke="#000" stroke-width="0.72" />
<path d="M664.78 991.52L674.05 1000.14" stroke="#000" stroke-width="0.72" fill="none" />
<path d="M664.93 1008.52L674.21 1017.64" stroke="#000" stroke-width="0.72" fill="none" />
<path d="M673.94 987.44L731.64 987.44" stroke="#000" stroke-width="0.72" fill="none" />
<path d="M686.44 984.53v5.6l5 -2.8z" fill="#000"/>
<path d="M691.74 984.33v6" stroke="#000" stroke-width="0.7"/>
<circle cx="700.64" cy="987.21" r="2.1" fill="#000"/>
<circle cx="700.79" cy="1004.91" r="2.1" fill="#000"/>
<circle cx="682.79" cy="1004.76" r="2.1" fill="#000"/>
<path d="M700.64 987.21L700.64 1004.91" stroke="#000" stroke-width="0.96" fill="none" />
<path d="M674.09 1004.84L682.79 1004.84" stroke="#000" stroke-width="0.72" fill="none" />
<path d="M700.79 1004.91L688.96 1001.71" stroke="#000" stroke-width="0.8"/>
<path d="M686.06 1000.93L689.32 1000.36L688.59 1003.07Z" fill="#000"/>
<path d="M713.64 987.09l1.2 -2.2l1.8 4.2l1.8 -4.2l1.8 4.2l1.4 -2h8" stroke="#000" stroke-width="0.7" fill="none"/>
<path d="M711.79 980.91L722.23 990.85" stroke="#000" stroke-width="0.7"/>
<path d="M724.69 993.2L721.2 991.94L723.27 989.77Z" fill="#000"/>
<path d="M731.64 987.04L744.64 987.04L744.64 996.52" stroke="#000" stroke-width="0.72" fill="none" />
<circle cx="744.8" cy="1004.82" r="6.8" fill="none" stroke="#000" stroke-width="0.84"/>
<circle cx="744.72" cy="996.32" r="2.1" fill="#000"/>
<circle cx="744.87" cy="1013.42" r="2.1" fill="#000"/>
<path d="M674.25 1022.44L744.95 1022.44L744.95 1013.42" stroke="#000" stroke-width="0.72" fill="none" />
<text x="655.62" y="984.83" font-size="5.85" text-anchor="middle">YEL</text>
<text x="655.77" y="1002.03" font-size="5.85" text-anchor="middle">RED</text>
<text x="655.42" y="1019.53" font-size="5.85" text-anchor="middle">BLK</text>
<circle cx="638.75" cy="1022.65" r="2.3" fill="#000"/>
<path d="M635.85 1018.25V1027.05" stroke="#000" stroke-width="0.65"/>
<path d="M634.25 1019.95V1025.35" stroke="#000" stroke-width="0.65"/>
<path d="M632.65 1021.55V1023.75" stroke="#000" stroke-width="0.65"/>
<path d="M638.75 1022.65L665.05 1022.65" stroke="#000" stroke-width="1.2" fill="none" />
<rect x="673.98" y="1049.44" width="79.7" height="51.7" fill="none" stroke="#000" stroke-width="0.66" />
<rect x="664.82" y="1053.22" width="9.2" height="9.2" fill="none" stroke="#000" stroke-width="0.72" />
<rect x="664.9" y="1062.42" width="9.2" height="8.3" fill="none" stroke="#000" stroke-width="0.72" />
<rect x="664.97" y="1070.72" width="9.2" height="8.3" fill="none" stroke="#000" stroke-width="0.72" />
<rect x="665.04" y="1079.02" width="9.2" height="8.9" fill="none" stroke="#000" stroke-width="0.72" />
<rect x="665.12" y="1087.92" width="9.2" height="8.6" fill="none" stroke="#000" stroke-width="0.72" />
<path d="M664.9 1062.42L674.17 1070.64" stroke="#000" stroke-width="0.72" fill="none" />
<path d="M665.04 1079.02L674.32 1087.84" stroke="#000" stroke-width="0.72" fill="none" />
<path d="M674.06 1058.14L731.36 1058.14" stroke="#000" stroke-width="0.72" fill="none" />
<path d="M686.36 1055.23v5.6l5 -2.8z" fill="#000"/>
<path d="M691.66 1055.03v6" stroke="#000" stroke-width="0.7"/>
<circle cx="700.56" cy="1057.91" r="2.1" fill="#000"/>
<circle cx="700.7" cy="1074.61" r="2.1" fill="#000"/>
<circle cx="682.7" cy="1074.47" r="2.1" fill="#000"/>
<path d="M700.56 1057.91L700.56 1074.61" stroke="#000" stroke-width="0.96" fill="none" />
<path d="M674.2 1074.54L682.7 1074.54" stroke="#000" stroke-width="0.72" fill="none" />
<path d="M700.7 1074.61L688.86 1071.42" stroke="#000" stroke-width="0.8"/>
<path d="M685.97 1070.64L689.23 1070.07L688.5 1072.77Z" fill="#000"/>
<path d="M713.56 1057.8l1.2 -2.2l1.8 4.2l1.8 -4.2l1.8 4.2l1.4 -2h8" stroke="#000" stroke-width="0.7" fill="none"/>
<path d="M711.7 1051.61L722.15 1061.56" stroke="#000" stroke-width="0.7"/>
<path d="M724.61 1063.9L721.11 1062.64L723.18 1060.47Z" fill="#000"/>
<path d="M731.36 1057.74L744.36 1057.74L744.36 1066.53" stroke="#000" stroke-width="0.72" fill="none" />
<circle cx="744.51" cy="1074.83" r="6.8" fill="none" stroke="#000" stroke-width="0.84"/>
<circle cx="744.43" cy="1066.33" r="2.1" fill="#000"/>
<circle cx="744.58" cy="1083.43" r="2.1" fill="#000"/>
<path d="M674.36 1092.34L744.66 1092.34L744.66 1083.43" stroke="#000" stroke-width="0.72" fill="none" />
<text x="655.34" y="1055.63" font-size="5.85" text-anchor="middle">YEL</text>
<text x="655.38" y="1071.64" font-size="5.85" text-anchor="middle">RED</text>
<text x="655.13" y="1089.54" font-size="5.85" text-anchor="middle">BLK</text>
<circle cx="639.35" cy="1092.25" r="2.3" fill="#000"/>
<path d="M636.45 1087.85V1096.65" stroke="#000" stroke-width="0.65"/>
<path d="M634.85 1089.55V1094.95" stroke="#000" stroke-width="0.65"/>
<path d="M633.25 1091.15V1093.35" stroke="#000" stroke-width="0.65"/>
<path d="M639.35 1092.25L665.15 1092.25" stroke="#000" stroke-width="1.2" fill="none" />
<text x="713.69" y="1107.88" font-size="6" font-weight="bold" text-anchor="middle" letter-spacing="0.28">LEFT HEADLT</text>
<text x="713.69" y="1114.58" font-size="6" font-weight="bold" text-anchor="middle" letter-spacing="0.28">WIPER MOTOR</text>
</svg>
</div></body></html>
